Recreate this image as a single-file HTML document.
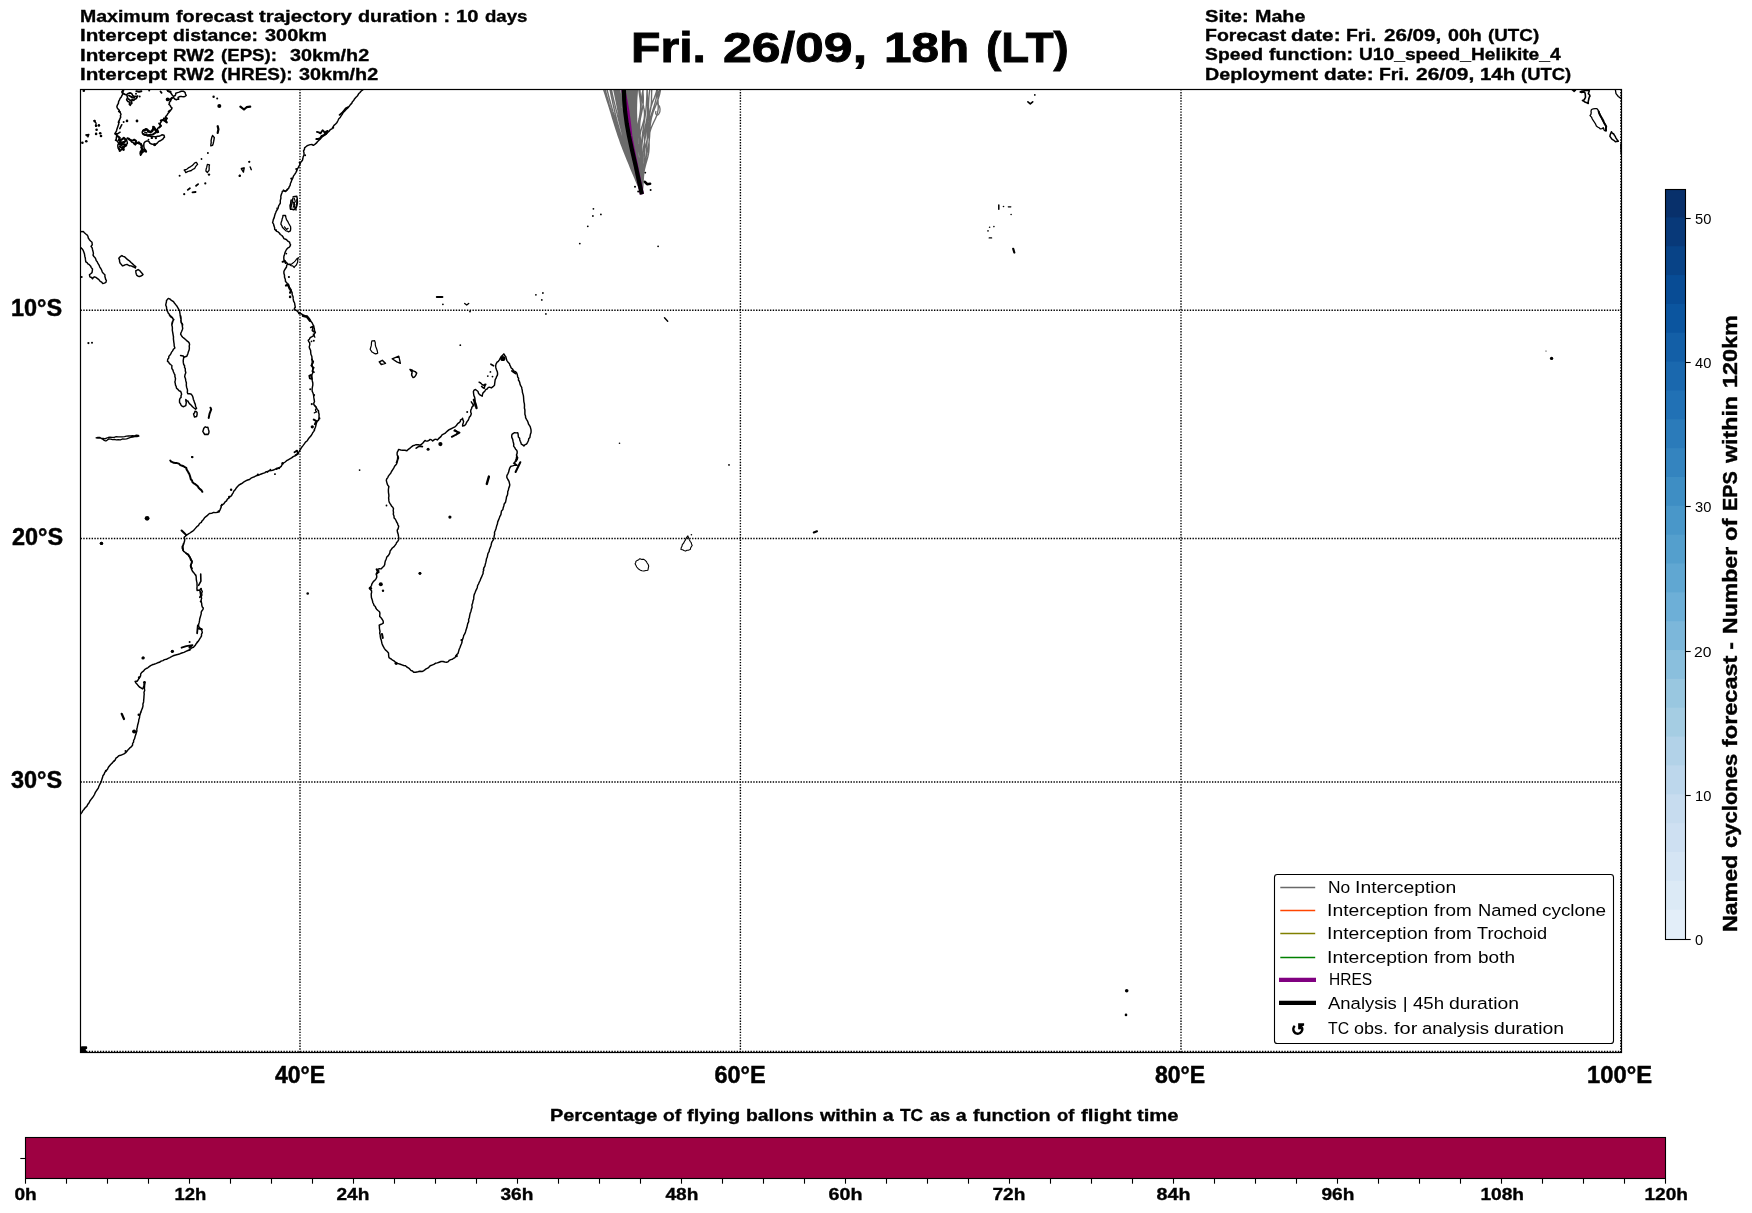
<!DOCTYPE html><html><head><meta charset="utf-8"><title>Trajectory forecast</title>
<style>html,body{margin:0;padding:0;background:#fff}svg{display:block}text{font-family:"Liberation Sans",sans-serif;fill:#000}</style></head><body>
<svg width="1752" height="1213" viewBox="0 0 1752 1213">
<rect width="1752" height="1213" fill="#fff"/>
<defs><clipPath id="mc"><rect x="80.5" y="89.5" width="1541.0" height="963.0"/></clipPath></defs>
<g clip-path="url(#mc)">
<path d="M603.3 88.5 Q604.4 92.0 605.0 93.8 Q605.6 95.6 606.1 97.3 Q606.7 99.1 607.2 100.8 Q607.8 102.6 608.4 104.4 Q608.9 106.1 609.5 107.9 Q610.0 109.7 610.6 111.4 Q611.1 113.2 611.7 115.0 Q612.2 116.7 612.7 118.5 Q613.3 120.2 613.8 122.0 Q614.4 123.8 614.9 125.5 Q615.5 127.3 616.0 129.1 Q616.6 130.8 617.2 132.6 Q617.7 134.3 618.3 136.1 Q618.9 137.9 619.6 139.6 Q620.2 141.4 620.8 143.2 Q621.5 144.9 622.2 146.7 Q622.8 148.5 623.5 150.2 Q624.2 152.0 624.9 153.7 Q625.6 155.5 626.3 157.3 Q627.0 159.0 627.7 160.8 Q628.5 162.6 629.2 164.3 Q629.9 166.1 630.6 167.9 Q631.4 169.6 632.1 171.4 Q632.8 173.1 633.6 174.9 Q634.3 176.7 635.1 178.4 Q635.8 180.2 636.5 182.0 Q637.3 183.7 638.0 185.5 Q638.8 187.2 639.6 189.0 Q640.3 190.8 641.1 192.5 L641.9 194.3 M605.0 88.5 Q605.8 92.0 606.3 93.8 Q606.7 95.6 607.2 97.3 Q607.7 99.1 608.2 100.8 Q608.7 102.6 609.2 104.4 Q609.8 106.1 610.3 107.9 Q610.9 109.7 611.4 111.4 Q612.0 113.2 612.6 115.0 Q613.2 116.7 613.8 118.5 Q614.3 120.2 614.9 122.0 Q615.5 123.8 616.1 125.5 Q616.7 127.3 617.3 129.1 Q617.9 130.8 618.5 132.6 Q619.1 134.3 619.7 136.1 Q620.3 137.9 620.8 139.6 Q621.4 141.4 622.0 143.2 Q622.6 144.9 623.2 146.7 Q623.8 148.5 624.4 150.2 Q625.0 152.0 625.6 153.7 Q626.3 155.5 626.9 157.3 Q627.5 159.0 628.2 160.8 Q628.8 162.6 629.5 164.3 Q630.2 166.1 630.9 167.9 Q631.6 169.6 632.3 171.4 Q633.0 173.1 633.7 174.9 Q634.4 176.7 635.2 178.4 Q635.9 180.2 636.6 182.0 Q637.4 183.7 638.1 185.5 Q638.9 187.2 639.6 189.0 Q640.4 190.8 641.1 192.5 L641.9 194.3 M606.8 88.5 Q607.6 92.0 608.1 93.8 Q608.5 95.6 609.0 97.3 Q609.4 99.1 609.9 100.8 Q610.4 102.6 610.9 104.4 Q611.4 106.1 611.9 107.9 Q612.4 109.7 612.9 111.4 Q613.5 113.2 614.0 115.0 Q614.6 116.7 615.1 118.5 Q615.6 120.2 616.2 122.0 Q616.7 123.8 617.3 125.5 Q617.8 127.3 618.4 129.1 Q618.9 130.8 619.5 132.6 Q620.0 134.3 620.6 136.1 Q621.1 137.9 621.7 139.6 Q622.3 141.4 622.8 143.2 Q623.4 144.9 624.0 146.7 Q624.5 148.5 625.1 150.2 Q625.7 152.0 626.3 153.7 Q626.9 155.5 627.5 157.3 Q628.1 159.0 628.8 160.8 Q629.4 162.6 630.1 164.3 Q630.7 166.1 631.4 167.9 Q632.0 169.6 632.7 171.4 Q633.4 173.1 634.1 174.9 Q634.8 176.7 635.5 178.4 Q636.2 180.2 636.9 182.0 Q637.6 183.7 638.3 185.5 Q639.0 187.2 639.7 189.0 Q640.4 190.8 641.2 192.5 L641.9 194.3 M609.8 88.5 Q610.5 92.0 610.9 93.8 Q611.2 95.6 611.6 97.3 Q612.0 99.1 612.4 100.8 Q612.7 102.6 613.1 104.4 Q613.5 106.1 613.9 107.9 Q614.3 109.7 614.7 111.4 Q615.1 113.2 615.5 115.0 Q616.0 116.7 616.4 118.5 Q616.9 120.2 617.3 122.0 Q617.8 123.8 618.3 125.5 Q618.8 127.3 619.3 129.1 Q619.8 130.8 620.3 132.6 Q620.8 134.3 621.4 136.1 Q621.9 137.9 622.5 139.6 Q623.1 141.4 623.6 143.2 Q624.2 144.9 624.8 146.7 Q625.4 148.5 626.0 150.2 Q626.6 152.0 627.2 153.7 Q627.8 155.5 628.4 157.3 Q629.0 159.0 629.7 160.8 Q630.3 162.6 630.9 164.3 Q631.5 166.1 632.1 167.9 Q632.8 169.6 633.4 171.4 Q634.0 173.1 634.7 174.9 Q635.3 176.7 636.0 178.4 Q636.6 180.2 637.2 182.0 Q637.9 183.7 638.5 185.5 Q639.2 187.2 639.9 189.0 Q640.5 190.8 641.2 192.5 L641.9 194.3 M611.2 88.5 Q611.9 92.0 612.3 93.8 Q612.7 95.6 613.1 97.3 Q613.5 99.1 613.9 100.8 Q614.3 102.6 614.8 104.4 Q615.2 106.1 615.6 107.9 Q616.1 109.7 616.5 111.4 Q617.0 113.2 617.4 115.0 Q617.9 116.7 618.3 118.5 Q618.8 120.2 619.2 122.0 Q619.7 123.8 620.1 125.5 Q620.6 127.3 621.0 129.1 Q621.5 130.8 621.9 132.6 Q622.4 134.3 622.8 136.1 Q623.3 137.9 623.8 139.6 Q624.3 141.4 624.8 143.2 Q625.3 144.9 625.8 146.7 Q626.3 148.5 626.8 150.2 Q627.4 152.0 627.9 153.7 Q628.5 155.5 629.1 157.3 Q629.6 159.0 630.2 160.8 Q630.8 162.6 631.4 164.3 Q632.0 166.1 632.6 167.9 Q633.2 169.6 633.8 171.4 Q634.4 173.1 635.0 174.9 Q635.6 176.7 636.2 178.4 Q636.8 180.2 637.4 182.0 Q638.1 183.7 638.7 185.5 Q639.3 187.2 640.0 189.0 Q640.6 190.8 641.2 192.5 L641.9 194.3 M613.6 88.5 Q614.3 92.0 614.7 93.8 Q615.1 95.6 615.4 97.3 Q615.8 99.1 616.1 100.8 Q616.5 102.6 616.8 104.4 Q617.2 106.1 617.5 107.9 Q617.8 109.7 618.2 111.4 Q618.5 113.2 618.9 115.0 Q619.2 116.7 619.6 118.5 Q620.0 120.2 620.4 122.0 Q620.8 123.8 621.3 125.5 Q621.7 127.3 622.2 129.1 Q622.7 130.8 623.2 132.6 Q623.6 134.3 624.1 136.1 Q624.6 137.9 625.1 139.6 Q625.6 141.4 626.0 143.2 Q626.5 144.9 627.0 146.7 Q627.5 148.5 627.9 150.2 Q628.4 152.0 628.9 153.7 Q629.4 155.5 629.9 157.3 Q630.4 159.0 630.9 160.8 Q631.4 162.6 631.9 164.3 Q632.5 166.1 633.0 167.9 Q633.6 169.6 634.2 171.4 Q634.7 173.1 635.3 174.9 Q635.9 176.7 636.5 178.4 Q637.1 180.2 637.7 182.0 Q638.3 183.7 638.9 185.5 Q639.5 187.2 640.1 189.0 Q640.7 190.8 641.3 192.5 L641.9 194.3 M614.9 88.5 Q615.6 92.0 615.9 93.8 Q616.2 95.6 616.5 97.3 Q616.8 99.1 617.0 100.8 Q617.3 102.6 617.5 104.4 Q617.8 106.1 618.1 107.9 Q618.4 109.7 618.6 111.4 Q618.9 113.2 619.3 115.0 Q619.6 116.7 620.0 118.5 Q620.4 120.2 620.8 122.0 Q621.2 123.8 621.6 125.5 Q622.1 127.3 622.6 129.1 Q623.1 130.8 623.6 132.6 Q624.1 134.3 624.6 136.1 Q625.1 137.9 625.6 139.6 Q626.1 141.4 626.6 143.2 Q627.1 144.9 627.5 146.7 Q628.0 148.5 628.5 150.2 Q628.9 152.0 629.4 153.7 Q629.9 155.5 630.3 157.3 Q630.8 159.0 631.3 160.8 Q631.7 162.6 632.2 164.3 Q632.7 166.1 633.2 167.9 Q633.7 169.6 634.3 171.4 Q634.8 173.1 635.4 174.9 Q635.9 176.7 636.5 178.4 Q637.1 180.2 637.7 182.0 Q638.3 183.7 638.9 185.5 Q639.5 187.2 640.1 189.0 Q640.7 190.8 641.3 192.5 L641.9 194.3 M615.4 88.5 Q616.0 92.0 616.4 93.8 Q616.7 95.6 617.0 97.3 Q617.3 99.1 617.6 100.8 Q618.0 102.6 618.3 104.4 Q618.6 106.1 618.9 107.9 Q619.2 109.7 619.6 111.4 Q619.9 113.2 620.2 115.0 Q620.6 116.7 620.9 118.5 Q621.3 120.2 621.6 122.0 Q622.0 123.8 622.4 125.5 Q622.8 127.3 623.2 129.1 Q623.6 130.8 624.0 132.6 Q624.5 134.3 624.9 136.1 Q625.3 137.9 625.8 139.6 Q626.3 141.4 626.7 143.2 Q627.2 144.9 627.7 146.7 Q628.2 148.5 628.6 150.2 Q629.1 152.0 629.6 153.7 Q630.1 155.5 630.6 157.3 Q631.1 159.0 631.6 160.8 Q632.1 162.6 632.6 164.3 Q633.1 166.1 633.6 167.9 Q634.1 169.6 634.6 171.4 Q635.1 173.1 635.6 174.9 Q636.2 176.7 636.7 178.4 Q637.3 180.2 637.8 182.0 Q638.4 183.7 639.0 185.5 Q639.5 187.2 640.1 189.0 Q640.7 190.8 641.3 192.5 L641.9 194.3 M616.2 88.5 Q616.8 92.0 617.2 93.8 Q617.5 95.6 617.8 97.3 Q618.1 99.1 618.5 100.8 Q618.8 102.6 619.1 104.4 Q619.4 106.1 619.7 107.9 Q620.1 109.7 620.4 111.4 Q620.7 113.2 621.0 115.0 Q621.4 116.7 621.7 118.5 Q622.0 120.2 622.4 122.0 Q622.7 123.8 623.1 125.5 Q623.4 127.3 623.8 129.1 Q624.2 130.8 624.5 132.6 Q624.9 134.3 625.3 136.1 Q625.7 137.9 626.1 139.6 Q626.6 141.4 627.0 143.2 Q627.4 144.9 627.9 146.7 Q628.3 148.5 628.8 150.2 Q629.3 152.0 629.8 153.7 Q630.2 155.5 630.7 157.3 Q631.2 159.0 631.7 160.8 Q632.2 162.6 632.7 164.3 Q633.3 166.1 633.8 167.9 Q634.3 169.6 634.8 171.4 Q635.3 173.1 635.9 174.9 Q636.4 176.7 636.9 178.4 Q637.5 180.2 638.0 182.0 Q638.5 183.7 639.1 185.5 Q639.6 187.2 640.2 189.0 Q640.8 190.8 641.3 192.5 L641.9 194.3 M616.6 88.5 Q617.3 92.0 617.6 93.8 Q618.0 95.6 618.3 97.3 Q618.7 99.1 619.0 100.8 Q619.4 102.6 619.8 104.4 Q620.1 106.1 620.5 107.9 Q620.8 109.7 621.2 111.4 Q621.5 113.2 621.8 115.0 Q622.2 116.7 622.5 118.5 Q622.8 120.2 623.1 122.0 Q623.4 123.8 623.8 125.5 Q624.1 127.3 624.4 129.1 Q624.7 130.8 625.1 132.6 Q625.4 134.3 625.8 136.1 Q626.2 137.9 626.5 139.6 Q626.9 141.4 627.3 143.2 Q627.8 144.9 628.2 146.7 Q628.6 148.5 629.1 150.2 Q629.6 152.0 630.0 153.7 Q630.5 155.5 631.0 157.3 Q631.5 159.0 632.0 160.8 Q632.5 162.6 633.0 164.3 Q633.5 166.1 634.0 167.9 Q634.5 169.6 635.0 171.4 Q635.6 173.1 636.1 174.9 Q636.6 176.7 637.1 178.4 Q637.6 180.2 638.1 182.0 Q638.6 183.7 639.2 185.5 Q639.7 187.2 640.2 189.0 Q640.8 190.8 641.3 192.5 L641.9 194.3 M617.9 88.5 Q618.2 92.0 618.4 93.8 Q618.6 95.6 618.8 97.3 Q619.0 99.1 619.3 100.8 Q619.6 102.6 619.9 104.4 Q620.2 106.1 620.6 107.9 Q620.9 109.7 621.3 111.4 Q621.7 113.2 622.1 115.0 Q622.5 116.7 622.9 118.5 Q623.3 120.2 623.7 122.0 Q624.1 123.8 624.5 125.5 Q624.8 127.3 625.2 129.1 Q625.6 130.8 625.9 132.6 Q626.2 134.3 626.6 136.1 Q626.9 137.9 627.3 139.6 Q627.6 141.4 628.0 143.2 Q628.3 144.9 628.7 146.7 Q629.1 148.5 629.5 150.2 Q629.9 152.0 630.3 153.7 Q630.7 155.5 631.2 157.3 Q631.7 159.0 632.1 160.8 Q632.6 162.6 633.1 164.3 Q633.6 166.1 634.1 167.9 Q634.6 169.6 635.2 171.4 Q635.7 173.1 636.2 174.9 Q636.7 176.7 637.2 178.4 Q637.7 180.2 638.2 182.0 Q638.7 183.7 639.3 185.5 Q639.8 187.2 640.3 189.0 Q640.8 190.8 641.4 192.5 L641.9 194.3 M619.2 88.5 Q619.6 92.0 619.8 93.8 Q620.0 95.6 620.2 97.3 Q620.4 99.1 620.5 100.8 Q620.7 102.6 620.9 104.4 Q621.1 106.1 621.3 107.9 Q621.6 109.7 621.8 111.4 Q622.1 113.2 622.4 115.0 Q622.7 116.7 623.0 118.5 Q623.3 120.2 623.7 122.0 Q624.1 123.8 624.5 125.5 Q624.8 127.3 625.3 129.1 Q625.7 130.8 626.1 132.6 Q626.5 134.3 626.9 136.1 Q627.4 137.9 627.8 139.6 Q628.2 141.4 628.6 143.2 Q629.0 144.9 629.5 146.7 Q629.9 148.5 630.3 150.2 Q630.7 152.0 631.1 153.7 Q631.5 155.5 631.9 157.3 Q632.2 159.0 632.7 160.8 Q633.1 162.6 633.5 164.3 Q633.9 166.1 634.3 167.9 Q634.8 169.6 635.2 171.4 Q635.7 173.1 636.2 174.9 Q636.6 176.7 637.1 178.4 Q637.6 180.2 638.2 182.0 Q638.7 183.7 639.2 185.5 Q639.7 187.2 640.3 189.0 Q640.8 190.8 641.4 192.5 L641.9 194.3 M619.0 88.5 Q619.7 92.0 620.1 93.8 Q620.5 95.6 620.9 97.3 Q621.3 99.1 621.7 100.8 Q622.0 102.6 622.3 104.4 Q622.6 106.1 622.8 107.9 Q623.0 109.7 623.2 111.4 Q623.4 113.2 623.5 115.0 Q623.7 116.7 623.9 118.5 Q624.0 120.2 624.3 122.0 Q624.5 123.8 624.8 125.5 Q625.1 127.3 625.5 129.1 Q625.9 130.8 626.3 132.6 Q626.8 134.3 627.2 136.1 Q627.7 137.9 628.2 139.6 Q628.6 141.4 629.1 143.2 Q629.5 144.9 629.9 146.7 Q630.3 148.5 630.7 150.2 Q631.0 152.0 631.4 153.7 Q631.7 155.5 632.1 157.3 Q632.4 159.0 632.8 160.8 Q633.1 162.6 633.5 164.3 Q633.9 166.1 634.4 167.9 Q634.8 169.6 635.3 171.4 Q635.8 173.1 636.3 174.9 Q636.8 176.7 637.3 178.4 Q637.9 180.2 638.4 182.0 Q638.9 183.7 639.4 185.5 Q639.9 187.2 640.4 189.0 Q640.9 190.8 641.4 192.5 L641.9 194.3 M620.9 88.5 Q621.4 92.0 621.5 93.8 Q621.7 95.6 621.9 97.3 Q622.1 99.1 622.3 100.8 Q622.4 102.6 622.6 104.4 Q622.8 106.1 623.0 107.9 Q623.2 109.7 623.4 111.4 Q623.6 113.2 623.8 115.0 Q624.0 116.7 624.3 118.5 Q624.6 120.2 624.8 122.0 Q625.1 123.8 625.4 125.5 Q625.8 127.3 626.1 129.1 Q626.5 130.8 626.8 132.6 Q627.2 134.3 627.6 136.1 Q628.0 137.9 628.4 139.6 Q628.8 141.4 629.2 143.2 Q629.6 144.9 630.0 146.7 Q630.4 148.5 630.9 150.2 Q631.3 152.0 631.7 153.7 Q632.1 155.5 632.5 157.3 Q632.9 159.0 633.3 160.8 Q633.7 162.6 634.1 164.3 Q634.5 166.1 635.0 167.9 Q635.4 169.6 635.8 171.4 Q636.2 173.1 636.6 174.9 Q637.1 176.7 637.5 178.4 Q638.0 180.2 638.4 182.0 Q638.9 183.7 639.4 185.5 Q639.9 187.2 640.4 189.0 Q640.9 190.8 641.4 192.5 L641.9 194.3 M620.9 88.5 Q621.3 92.0 621.6 93.8 Q621.8 95.6 622.0 97.3 Q622.3 99.1 622.5 100.8 Q622.8 102.6 623.1 104.4 Q623.3 106.1 623.6 107.9 Q623.9 109.7 624.2 111.4 Q624.5 113.2 624.8 115.0 Q625.1 116.7 625.4 118.5 Q625.7 120.2 626.0 122.0 Q626.3 123.8 626.6 125.5 Q626.9 127.3 627.2 129.1 Q627.5 130.8 627.8 132.6 Q628.2 134.3 628.5 136.1 Q628.8 137.9 629.1 139.6 Q629.5 141.4 629.8 143.2 Q630.1 144.9 630.5 146.7 Q630.8 148.5 631.2 150.2 Q631.5 152.0 631.9 153.7 Q632.2 155.5 632.6 157.3 Q633.0 159.0 633.4 160.8 Q633.7 162.6 634.1 164.3 Q634.5 166.1 635.0 167.9 Q635.4 169.6 635.8 171.4 Q636.2 173.1 636.7 174.9 Q637.1 176.7 637.6 178.4 Q638.0 180.2 638.5 182.0 Q639.0 183.7 639.4 185.5 Q639.9 187.2 640.4 189.0 Q640.9 190.8 641.4 192.5 L641.9 194.3 M622.4 88.5 Q622.6 92.0 622.7 93.8 Q622.8 95.6 622.9 97.3 Q623.0 99.1 623.2 100.8 Q623.3 102.6 623.6 104.4 Q623.8 106.1 624.0 107.9 Q624.3 109.7 624.6 111.4 Q624.9 113.2 625.2 115.0 Q625.6 116.7 625.9 118.5 Q626.2 120.2 626.6 122.0 Q626.9 123.8 627.2 125.5 Q627.5 127.3 627.8 129.1 Q628.1 130.8 628.3 132.6 Q628.6 134.3 628.9 136.1 Q629.1 137.9 629.4 139.6 Q629.7 141.4 630.0 143.2 Q630.2 144.9 630.6 146.7 Q630.9 148.5 631.2 150.2 Q631.6 152.0 632.0 153.7 Q632.3 155.5 632.8 157.3 Q633.2 159.0 633.6 160.8 Q634.0 162.6 634.4 164.3 Q634.9 166.1 635.3 167.9 Q635.7 169.6 636.1 171.4 Q636.6 173.1 637.0 174.9 Q637.4 176.7 637.8 178.4 Q638.3 180.2 638.7 182.0 Q639.1 183.7 639.6 185.5 Q640.0 187.2 640.5 189.0 Q640.9 190.8 641.4 192.5 L641.9 194.3 M623.0 88.5 Q623.6 92.0 623.9 93.8 Q624.2 95.6 624.4 97.3 Q624.6 99.1 624.8 100.8 Q625.0 102.6 625.1 104.4 Q625.2 106.1 625.3 107.9 Q625.4 109.7 625.5 111.4 Q625.6 113.2 625.7 115.0 Q625.9 116.7 626.1 118.5 Q626.2 120.2 626.5 122.0 Q626.7 123.8 627.0 125.5 Q627.4 127.3 627.7 129.1 Q628.1 130.8 628.5 132.6 Q628.9 134.3 629.3 136.1 Q629.7 137.9 630.0 139.6 Q630.4 141.4 630.8 143.2 Q631.1 144.9 631.4 146.7 Q631.8 148.5 632.1 150.2 Q632.4 152.0 632.6 153.7 Q632.9 155.5 633.2 157.3 Q633.5 159.0 633.8 160.8 Q634.1 162.6 634.5 164.3 Q634.8 166.1 635.2 167.9 Q635.6 169.6 636.0 171.4 Q636.5 173.1 636.9 174.9 Q637.4 176.7 637.8 178.4 Q638.3 180.2 638.7 182.0 Q639.2 183.7 639.7 185.5 Q640.1 187.2 640.6 189.0 Q641.0 190.8 641.5 192.5 L641.9 194.3 M623.9 88.5 Q624.0 92.0 624.1 93.8 Q624.2 95.6 624.4 97.3 Q624.5 99.1 624.7 100.8 Q624.9 102.6 625.1 104.4 Q625.3 106.1 625.6 107.9 Q625.9 109.7 626.1 111.4 Q626.4 113.2 626.7 115.0 Q627.0 116.7 627.2 118.5 Q627.5 120.2 627.8 122.0 Q628.0 123.8 628.2 125.5 Q628.5 127.3 628.7 129.1 Q628.9 130.8 629.2 132.6 Q629.4 134.3 629.6 136.1 Q629.9 137.9 630.1 139.6 Q630.4 141.4 630.7 143.2 Q631.0 144.9 631.3 146.7 Q631.7 148.5 632.0 150.2 Q632.4 152.0 632.7 153.7 Q633.1 155.5 633.5 157.3 Q633.9 159.0 634.2 160.8 Q634.6 162.6 635.0 164.3 Q635.4 166.1 635.7 167.9 Q636.1 169.6 636.5 171.4 Q636.9 173.1 637.3 174.9 Q637.6 176.7 638.0 178.4 Q638.4 180.2 638.8 182.0 Q639.2 183.7 639.7 185.5 Q640.1 187.2 640.5 189.0 Q641.0 190.8 641.4 192.5 L641.9 194.3 M625.0 88.5 Q625.4 92.0 625.6 93.8 Q625.8 95.6 626.0 97.3 Q626.2 99.1 626.3 100.8 Q626.5 102.6 626.6 104.4 Q626.8 106.1 626.9 107.9 Q627.0 109.7 627.1 111.4 Q627.2 113.2 627.3 115.0 Q627.5 116.7 627.6 118.5 Q627.7 120.2 627.9 122.0 Q628.0 123.8 628.2 125.5 Q628.4 127.3 628.7 129.1 Q628.9 130.8 629.2 132.6 Q629.4 134.3 629.7 136.1 Q630.0 137.9 630.4 139.6 Q630.7 141.4 631.0 143.2 Q631.4 144.9 631.8 146.7 Q632.1 148.5 632.5 150.2 Q632.9 152.0 633.2 153.7 Q633.6 155.5 634.0 157.3 Q634.3 159.0 634.7 160.8 Q635.0 162.6 635.4 164.3 Q635.7 166.1 636.1 167.9 Q636.4 169.6 636.8 171.4 Q637.1 173.1 637.5 174.9 Q637.8 176.7 638.2 178.4 Q638.6 180.2 639.0 182.0 Q639.3 183.7 639.7 185.5 Q640.1 187.2 640.6 189.0 Q641.0 190.8 641.4 192.5 L641.9 194.3 M626.0 88.5 Q626.2 92.0 626.2 93.8 Q626.3 95.6 626.3 97.3 Q626.4 99.1 626.4 100.8 Q626.5 102.6 626.5 104.4 Q626.6 106.1 626.8 107.9 Q626.9 109.7 627.1 111.4 Q627.3 113.2 627.5 115.0 Q627.7 116.7 628.0 118.5 Q628.3 120.2 628.6 122.0 Q628.9 123.8 629.2 125.5 Q629.5 127.3 629.8 129.1 Q630.1 130.8 630.4 132.6 Q630.7 134.3 630.9 136.1 Q631.2 137.9 631.4 139.6 Q631.6 141.4 631.9 143.2 Q632.1 144.9 632.3 146.7 Q632.5 148.5 632.8 150.2 Q633.0 152.0 633.3 153.7 Q633.6 155.5 633.9 157.3 Q634.2 159.0 634.5 160.8 Q634.9 162.6 635.2 164.3 Q635.6 166.1 636.0 167.9 Q636.4 169.6 636.8 171.4 Q637.2 173.1 637.5 174.9 Q637.9 176.7 638.3 178.4 Q638.7 180.2 639.1 182.0 Q639.5 183.7 639.9 185.5 Q640.3 187.2 640.7 189.0 Q641.1 190.8 641.5 192.5 L641.9 194.3 M626.3 88.5 Q626.6 92.0 626.7 93.8 Q626.9 95.6 627.1 97.3 Q627.2 99.1 627.4 100.8 Q627.5 102.6 627.7 104.4 Q627.9 106.1 628.0 107.9 Q628.2 109.7 628.4 111.4 Q628.5 113.2 628.7 115.0 Q628.8 116.7 629.0 118.5 Q629.2 120.2 629.4 122.0 Q629.5 123.8 629.7 125.5 Q629.9 127.3 630.1 129.1 Q630.3 130.8 630.5 132.6 Q630.7 134.3 631.0 136.1 Q631.2 137.9 631.4 139.6 Q631.7 141.4 632.0 143.2 Q632.2 144.9 632.5 146.7 Q632.8 148.5 633.1 150.2 Q633.4 152.0 633.7 153.7 Q634.0 155.5 634.3 157.3 Q634.6 159.0 635.0 160.8 Q635.3 162.6 635.6 164.3 Q636.0 166.1 636.3 167.9 Q636.7 169.6 637.0 171.4 Q637.4 173.1 637.7 174.9 Q638.1 176.7 638.4 178.4 Q638.8 180.2 639.2 182.0 Q639.6 183.7 639.9 185.5 Q640.3 187.2 640.7 189.0 Q641.1 190.8 641.5 192.5 L641.9 194.3 M627.8 88.5 Q627.9 92.0 628.0 93.8 Q628.1 95.6 628.2 97.3 Q628.2 99.1 628.3 100.8 Q628.4 102.6 628.5 104.4 Q628.5 106.1 628.6 107.9 Q628.7 109.7 628.8 111.4 Q628.9 113.2 629.0 115.0 Q629.2 116.7 629.3 118.5 Q629.4 120.2 629.6 122.0 Q629.7 123.8 629.9 125.5 Q630.1 127.3 630.3 129.1 Q630.5 130.8 630.7 132.6 Q630.9 134.3 631.2 136.1 Q631.4 137.9 631.7 139.6 Q632.0 141.4 632.2 143.2 Q632.5 144.9 632.8 146.7 Q633.1 148.5 633.4 150.2 Q633.7 152.0 634.0 153.7 Q634.4 155.5 634.7 157.3 Q635.0 159.0 635.3 160.8 Q635.7 162.6 636.0 164.3 Q636.3 166.1 636.6 167.9 Q637.0 169.6 637.3 171.4 Q637.6 173.1 638.0 174.9 Q638.3 176.7 638.7 178.4 Q639.0 180.2 639.3 182.0 Q639.7 183.7 640.0 185.5 Q640.4 187.2 640.8 189.0 Q641.1 190.8 641.5 192.5 L641.9 194.3 M627.8 88.5 Q628.0 92.0 628.1 93.8 Q628.2 95.6 628.4 97.3 Q628.5 99.1 628.6 100.8 Q628.8 102.6 628.9 104.4 Q629.1 106.1 629.2 107.9 Q629.4 109.7 629.5 111.4 Q629.7 113.2 629.9 115.0 Q630.0 116.7 630.2 118.5 Q630.4 120.2 630.6 122.0 Q630.8 123.8 631.0 125.5 Q631.2 127.3 631.4 129.1 Q631.5 130.8 631.7 132.6 Q632.0 134.3 632.2 136.1 Q632.4 137.9 632.6 139.6 Q632.8 141.4 633.0 143.2 Q633.2 144.9 633.5 146.7 Q633.7 148.5 633.9 150.2 Q634.2 152.0 634.4 153.7 Q634.7 155.5 635.0 157.3 Q635.2 159.0 635.5 160.8 Q635.8 162.6 636.1 164.3 Q636.4 166.1 636.7 167.9 Q637.0 169.6 637.3 171.4 Q637.6 173.1 637.9 174.9 Q638.3 176.7 638.6 178.4 Q638.9 180.2 639.3 182.0 Q639.6 183.7 640.0 185.5 Q640.4 187.2 640.8 189.0 Q641.1 190.8 641.5 192.5 L641.9 194.3 M629.0 88.5 Q629.0 92.0 629.1 93.8 Q629.1 95.6 629.1 97.3 Q629.2 99.1 629.3 100.8 Q629.3 102.6 629.4 104.4 Q629.5 106.1 629.7 107.9 Q629.8 109.7 630.0 111.4 Q630.1 113.2 630.3 115.0 Q630.5 116.7 630.7 118.5 Q630.9 120.2 631.1 122.0 Q631.3 123.8 631.5 125.5 Q631.7 127.3 631.9 129.1 Q632.1 130.8 632.3 132.6 Q632.5 134.3 632.6 136.1 Q632.8 137.9 633.0 139.6 Q633.2 141.4 633.4 143.2 Q633.6 144.9 633.8 146.7 Q634.0 148.5 634.2 150.2 Q634.4 152.0 634.7 153.7 Q634.9 155.5 635.2 157.3 Q635.4 159.0 635.7 160.8 Q636.0 162.6 636.2 164.3 Q636.5 166.1 636.8 167.9 Q637.2 169.6 637.5 171.4 Q637.8 173.1 638.1 174.9 Q638.4 176.7 638.8 178.4 Q639.1 180.2 639.5 182.0 Q639.8 183.7 640.1 185.5 Q640.5 187.2 640.8 189.0 Q641.2 190.8 641.5 192.5 L641.9 194.3 M630.0 88.5 Q630.1 92.0 630.2 93.8 Q630.3 95.6 630.3 97.3 Q630.4 99.1 630.4 100.8 Q630.4 102.6 630.5 104.4 Q630.5 106.1 630.6 107.9 Q630.6 109.7 630.7 111.4 Q630.8 113.2 630.9 115.0 Q631.0 116.7 631.1 118.5 Q631.2 120.2 631.4 122.0 Q631.6 123.8 631.8 125.5 Q631.9 127.3 632.2 129.1 Q632.4 130.8 632.6 132.6 Q632.8 134.3 633.0 136.1 Q633.2 137.9 633.5 139.6 Q633.7 141.4 633.9 143.2 Q634.1 144.9 634.3 146.7 Q634.5 148.5 634.7 150.2 Q634.9 152.0 635.1 153.7 Q635.3 155.5 635.6 157.3 Q635.8 159.0 636.0 160.8 Q636.3 162.6 636.5 164.3 Q636.8 166.1 637.0 167.9 Q637.3 169.6 637.6 171.4 Q637.9 173.1 638.2 174.9 Q638.5 176.7 638.9 178.4 Q639.2 180.2 639.5 182.0 Q639.9 183.7 640.2 185.5 Q640.5 187.2 640.9 189.0 Q641.2 190.8 641.6 192.5 L641.9 194.3 M630.8 88.5 Q630.8 92.0 630.8 93.8 Q630.8 95.6 630.8 97.3 Q630.8 99.1 630.8 100.8 Q630.8 102.6 630.9 104.4 Q630.9 106.1 631.0 107.9 Q631.0 109.7 631.1 111.4 Q631.2 113.2 631.3 115.0 Q631.4 116.7 631.5 118.5 Q631.7 120.2 631.8 122.0 Q632.0 123.8 632.1 125.5 Q632.3 127.3 632.5 129.1 Q632.7 130.8 632.9 132.6 Q633.1 134.3 633.3 136.1 Q633.5 137.9 633.7 139.6 Q634.0 141.4 634.2 143.2 Q634.4 144.9 634.7 146.7 Q634.9 148.5 635.1 150.2 Q635.3 152.0 635.6 153.7 Q635.8 155.5 636.1 157.3 Q636.3 159.0 636.5 160.8 Q636.8 162.6 637.0 164.3 Q637.3 166.1 637.5 167.9 Q637.8 169.6 638.0 171.4 Q638.3 173.1 638.5 174.9 Q638.8 176.7 639.1 178.4 Q639.4 180.2 639.7 182.0 Q640.0 183.7 640.3 185.5 Q640.6 187.2 640.9 189.0 Q641.2 190.8 641.6 192.5 L641.9 194.3 M631.4 88.5 Q631.5 92.0 631.6 93.8 Q631.7 95.6 631.8 97.3 Q631.8 99.1 631.9 100.8 Q632.0 102.6 632.1 104.4 Q632.2 106.1 632.2 107.9 Q632.3 109.7 632.4 111.4 Q632.5 113.2 632.6 115.0 Q632.6 116.7 632.7 118.5 Q632.8 120.2 632.9 122.0 Q633.0 123.8 633.1 125.5 Q633.2 127.3 633.3 129.1 Q633.4 130.8 633.5 132.6 Q633.6 134.3 633.8 136.1 Q633.9 137.9 634.1 139.6 Q634.2 141.4 634.4 143.2 Q634.6 144.9 634.8 146.7 Q635.0 148.5 635.2 150.2 Q635.4 152.0 635.6 153.7 Q635.8 155.5 636.1 157.3 Q636.3 159.0 636.6 160.8 Q636.8 162.6 637.1 164.3 Q637.3 166.1 637.6 167.9 Q637.8 169.6 638.1 171.4 Q638.4 173.1 638.7 174.9 Q638.9 176.7 639.2 178.4 Q639.5 180.2 639.8 182.0 Q640.1 183.7 640.4 185.5 Q640.7 187.2 641.0 189.0 Q641.3 190.8 641.6 192.5 L641.9 194.3 M631.9 88.5 Q632.1 92.0 632.2 93.8 Q632.3 95.6 632.4 97.3 Q632.5 99.1 632.7 100.8 Q632.8 102.6 632.9 104.4 Q633.0 106.1 633.1 107.9 Q633.2 109.7 633.3 111.4 Q633.4 113.2 633.4 115.0 Q633.5 116.7 633.6 118.5 Q633.7 120.2 633.7 122.0 Q633.8 123.8 633.8 125.5 Q633.9 127.3 634.0 129.1 Q634.0 130.8 634.1 132.6 Q634.2 134.3 634.3 136.1 Q634.3 137.9 634.5 139.6 Q634.6 141.4 634.7 143.2 Q634.9 144.9 635.0 146.7 Q635.2 148.5 635.4 150.2 Q635.6 152.0 635.8 153.7 Q636.0 155.5 636.2 157.3 Q636.5 159.0 636.7 160.8 Q637.0 162.6 637.2 164.3 Q637.5 166.1 637.7 167.9 Q638.0 169.6 638.3 171.4 Q638.6 173.1 638.8 174.9 Q639.1 176.7 639.4 178.4 Q639.7 180.2 639.9 182.0 Q640.2 183.7 640.5 185.5 Q640.8 187.2 641.0 189.0 Q641.3 190.8 641.6 192.5 L641.9 194.3 M632.9 88.5 Q633.0 92.0 633.0 93.8 Q633.1 95.6 633.2 97.3 Q633.2 99.1 633.3 100.8 Q633.4 102.6 633.4 104.4 Q633.5 106.1 633.6 107.9 Q633.7 109.7 633.7 111.4 Q633.8 113.2 633.9 115.0 Q633.9 116.7 634.0 118.5 Q634.0 120.2 634.1 122.0 Q634.2 123.8 634.2 125.5 Q634.3 127.3 634.4 129.1 Q634.5 130.8 634.5 132.6 Q634.6 134.3 634.7 136.1 Q634.8 137.9 635.0 139.6 Q635.1 141.4 635.2 143.2 Q635.4 144.9 635.5 146.7 Q635.7 148.5 635.9 150.2 Q636.1 152.0 636.3 153.7 Q636.5 155.5 636.7 157.3 Q636.9 159.0 637.1 160.8 Q637.3 162.6 637.6 164.3 Q637.8 166.1 638.0 167.9 Q638.3 169.6 638.5 171.4 Q638.7 173.1 639.0 174.9 Q639.2 176.7 639.5 178.4 Q639.7 180.2 640.0 182.0 Q640.2 183.7 640.5 185.5 Q640.8 187.2 641.0 189.0 Q641.3 190.8 641.6 192.5 L641.9 194.3 M634.0 88.5 Q634.1 92.0 634.1 93.8 Q634.2 95.6 634.2 97.3 Q634.3 99.1 634.3 100.8 Q634.4 102.6 634.4 104.4 Q634.4 106.1 634.5 107.9 Q634.5 109.7 634.6 111.4 Q634.6 113.2 634.7 115.0 Q634.7 116.7 634.7 118.5 Q634.8 120.2 634.8 122.0 Q634.9 123.8 634.9 125.5 Q635.0 127.3 635.0 129.1 Q635.1 130.8 635.1 132.6 Q635.2 134.3 635.3 136.1 Q635.3 137.9 635.4 139.6 Q635.5 141.4 635.6 143.2 Q635.8 144.9 635.9 146.7 Q636.0 148.5 636.2 150.2 Q636.3 152.0 636.5 153.7 Q636.6 155.5 636.8 157.3 Q637.0 159.0 637.2 160.8 Q637.4 162.6 637.6 164.3 Q637.8 166.1 638.1 167.9 Q638.3 169.6 638.5 171.4 Q638.8 173.1 639.0 174.9 Q639.3 176.7 639.5 178.4 Q639.8 180.2 640.0 182.0 Q640.3 183.7 640.6 185.5 Q640.8 187.2 641.1 189.0 Q641.4 190.8 641.6 192.5 L641.9 194.3 M634.5 88.5 Q634.5 92.0 634.5 93.8 Q634.5 95.6 634.6 97.3 Q634.6 99.1 634.6 100.8 Q634.7 102.6 634.7 104.4 Q634.8 106.1 634.8 107.9 Q634.9 109.7 634.9 111.4 Q635.0 113.2 635.1 115.0 Q635.1 116.7 635.2 118.5 Q635.2 120.2 635.3 122.0 Q635.4 123.8 635.4 125.5 Q635.5 127.3 635.6 129.1 Q635.6 130.8 635.7 132.6 Q635.8 134.3 635.9 136.1 Q635.9 137.9 636.0 139.6 Q636.1 141.4 636.2 143.2 Q636.3 144.9 636.4 146.7 Q636.5 148.5 636.7 150.2 Q636.8 152.0 636.9 153.7 Q637.1 155.5 637.2 157.3 Q637.4 159.0 637.6 160.8 Q637.7 162.6 637.9 164.3 Q638.1 166.1 638.3 167.9 Q638.5 169.6 638.7 171.4 Q639.0 173.1 639.2 174.9 Q639.4 176.7 639.7 178.4 Q639.9 180.2 640.1 182.0 Q640.4 183.7 640.6 185.5 Q640.9 187.2 641.1 189.0 Q641.4 190.8 641.6 192.5 L641.9 194.3 M635.9 88.5 Q635.9 92.0 635.8 93.8 Q635.8 95.6 635.8 97.3 Q635.8 99.1 635.8 100.8 Q635.8 102.6 635.8 104.4 Q635.7 106.1 635.7 107.9 Q635.7 109.7 635.7 111.4 Q635.7 113.2 635.6 115.0 Q635.6 116.7 635.6 118.5 Q635.6 120.2 635.6 122.0 Q635.6 123.8 635.7 125.5 Q635.7 127.3 635.7 129.1 Q635.8 130.8 635.8 132.6 Q635.9 134.3 636.0 136.1 Q636.1 137.9 636.2 139.6 Q636.3 141.4 636.4 143.2 Q636.6 144.9 636.7 146.7 Q636.8 148.5 637.0 150.2 Q637.1 152.0 637.3 153.7 Q637.5 155.5 637.7 157.3 Q637.8 159.0 638.0 160.8 Q638.2 162.6 638.4 164.3 Q638.5 166.1 638.7 167.9 Q638.9 169.6 639.1 171.4 Q639.3 173.1 639.5 174.9 Q639.7 176.7 639.9 178.4 Q640.1 180.2 640.3 182.0 Q640.5 183.7 640.7 185.5 Q640.9 187.2 641.2 189.0 Q641.4 190.8 641.7 192.5 L641.9 194.3 M636.8 88.5 Q636.7 92.0 636.6 93.8 Q636.5 95.6 636.4 97.3 Q636.4 99.1 636.3 100.8 Q636.2 102.6 636.2 104.4 Q636.1 106.1 636.1 107.9 Q636.0 109.7 636.0 111.4 Q636.0 113.2 636.0 115.0 Q636.0 116.7 636.0 118.5 Q636.0 120.2 636.1 122.0 Q636.2 123.8 636.2 125.5 Q636.3 127.3 636.4 129.1 Q636.5 130.8 636.6 132.6 Q636.7 134.3 636.8 136.1 Q636.9 137.9 637.0 139.6 Q637.1 141.4 637.1 143.2 Q637.2 144.9 637.3 146.7 Q637.4 148.5 637.5 150.2 Q637.6 152.0 637.7 153.7 Q637.8 155.5 638.0 157.3 Q638.1 159.0 638.2 160.8 Q638.3 162.6 638.5 164.3 Q638.6 166.1 638.8 167.9 Q638.9 169.6 639.1 171.4 Q639.3 173.1 639.5 174.9 Q639.7 176.7 639.9 178.4 Q640.1 180.2 640.3 182.0 Q640.5 183.7 640.7 185.5 Q641.0 187.2 641.2 189.0 Q641.4 190.8 641.7 192.5 L641.9 194.3 M637.5 88.5 Q637.2 92.0 637.1 93.8 Q637.0 95.6 636.8 97.3 Q636.7 99.1 636.6 100.8 Q636.6 102.6 636.5 104.4 Q636.5 106.1 636.4 107.9 Q636.4 109.7 636.4 111.4 Q636.4 113.2 636.5 115.0 Q636.5 116.7 636.6 118.5 Q636.6 120.2 636.7 122.0 Q636.8 123.8 636.9 125.5 Q637.0 127.3 637.1 129.1 Q637.1 130.8 637.2 132.6 Q637.3 134.3 637.4 136.1 Q637.5 137.9 637.6 139.6 Q637.6 141.4 637.7 143.2 Q637.8 144.9 637.8 146.7 Q637.9 148.5 638.0 150.2 Q638.0 152.0 638.1 153.7 Q638.2 155.5 638.3 157.3 Q638.4 159.0 638.5 160.8 Q638.6 162.6 638.7 164.3 Q638.8 166.1 638.9 167.9 Q639.1 169.6 639.2 171.4 Q639.4 173.1 639.6 174.9 Q639.8 176.7 639.9 178.4 Q640.1 180.2 640.4 182.0 Q640.6 183.7 640.8 185.5 Q641.0 187.2 641.2 189.0 Q641.4 190.8 641.7 192.5 L641.9 194.3 M638.7 88.5 Q639.1 92.0 639.4 93.8 Q639.6 95.6 639.9 97.3 Q640.2 99.1 640.3 100.8 Q640.5 102.6 640.6 104.4 Q640.6 106.1 640.6 107.9 Q640.5 109.7 640.3 111.4 Q640.1 113.2 639.8 115.0 Q639.5 116.7 639.2 118.5 Q638.8 120.2 638.5 122.0 Q638.2 123.8 638.0 125.5 Q637.7 127.3 637.6 129.1 Q637.4 130.8 637.4 132.6 Q637.4 134.3 637.5 136.1 Q637.6 137.9 637.8 139.6 Q638.0 141.4 638.2 143.2 Q638.5 144.9 638.7 146.7 Q639.0 148.5 639.2 150.2 Q639.5 152.0 639.6 153.7 Q639.8 155.5 639.9 157.3 Q640.0 159.0 640.1 160.8 Q640.1 162.6 640.1 164.3 Q640.1 166.1 640.1 167.9 Q640.1 169.6 640.1 171.4 Q640.0 173.1 640.1 174.9 Q640.1 176.7 640.2 178.4 Q640.3 180.2 640.5 182.0 Q640.6 183.7 640.8 185.5 Q641.0 187.2 641.2 189.0 Q641.4 190.8 641.7 192.5 L641.9 194.3 M639.8 88.5 Q640.0 92.0 640.2 93.8 Q640.5 95.6 640.7 97.3 Q640.9 99.1 641.0 100.8 Q641.2 102.6 641.2 104.4 Q641.2 106.1 641.0 107.9 Q640.9 109.7 640.6 111.4 Q640.4 113.2 640.0 115.0 Q639.7 116.7 639.3 118.5 Q639.0 120.2 638.8 122.0 Q638.5 123.8 638.4 125.5 Q638.3 127.3 638.3 129.1 Q638.3 130.8 638.5 132.6 Q638.6 134.3 638.8 136.1 Q639.1 137.9 639.3 139.6 Q639.5 141.4 639.7 143.2 Q639.8 144.9 639.9 146.7 Q640.0 148.5 640.0 150.2 Q640.0 152.0 640.0 153.7 Q639.9 155.5 639.8 157.3 Q639.7 159.0 639.6 160.8 Q639.6 162.6 639.5 164.3 Q639.5 166.1 639.6 167.9 Q639.6 169.6 639.8 171.4 Q639.9 173.1 640.1 174.9 Q640.3 176.7 640.5 178.4 Q640.7 180.2 640.9 182.0 Q641.1 183.7 641.2 185.5 Q641.4 187.2 641.5 189.0 Q641.7 190.8 641.8 192.5 L641.9 194.3 M642.7 88.5 Q643.0 92.0 643.1 93.8 Q643.3 95.6 643.3 97.3 Q643.4 99.1 643.3 100.8 Q643.3 102.6 643.1 104.4 Q642.9 106.1 642.5 107.9 Q642.2 109.7 641.9 111.4 Q641.5 113.2 641.1 115.0 Q640.7 116.7 640.4 118.5 Q640.1 120.2 639.9 122.0 Q639.7 123.8 639.7 125.5 Q639.6 127.3 639.6 129.1 Q639.7 130.8 639.8 132.6 Q639.9 134.3 640.1 136.1 Q640.3 137.9 640.4 139.6 Q640.6 141.4 640.7 143.2 Q640.8 144.9 640.9 146.7 Q640.9 148.5 640.9 150.2 Q640.9 152.0 640.8 153.7 Q640.7 155.5 640.6 157.3 Q640.5 159.0 640.4 160.8 Q640.3 162.6 640.2 164.3 Q640.2 166.1 640.2 167.9 Q640.2 169.6 640.2 171.4 Q640.3 173.1 640.4 174.9 Q640.5 176.7 640.7 178.4 Q640.8 180.2 641.0 182.0 Q641.2 183.7 641.3 185.5 Q641.5 187.2 641.6 189.0 Q641.7 190.8 641.8 192.5 L641.9 194.3 M643.6 88.5 Q642.5 92.0 642.2 93.8 Q642.0 95.6 642.0 97.3 Q642.1 99.1 642.4 100.8 Q642.7 102.6 643.1 104.4 Q643.5 106.1 643.8 107.9 Q644.2 109.7 644.4 111.4 Q644.6 113.2 644.5 115.0 Q644.4 116.7 644.2 118.5 Q643.9 120.2 643.4 122.0 Q642.9 123.8 642.4 125.5 Q641.8 127.3 641.3 129.1 Q640.8 130.8 640.5 132.6 Q640.1 134.3 640.0 136.1 Q639.8 137.9 639.9 139.6 Q639.9 141.4 640.2 143.2 Q640.4 144.9 640.7 146.7 Q641.0 148.5 641.2 150.2 Q641.5 152.0 641.7 153.7 Q641.9 155.5 641.9 157.3 Q642.0 159.0 641.9 160.8 Q641.8 162.6 641.7 164.3 Q641.5 166.1 641.3 167.9 Q641.1 169.6 641.0 171.4 Q640.8 173.1 640.8 174.9 Q640.7 176.7 640.7 178.4 Q640.8 180.2 640.9 182.0 Q641.0 183.7 641.2 185.5 Q641.4 187.2 641.5 189.0 Q641.7 190.8 641.8 192.5 L641.9 194.3 M647.1 88.5 Q647.0 92.0 646.9 93.8 Q646.9 95.6 646.8 97.3 Q646.7 99.1 646.6 100.8 Q646.5 102.6 646.4 104.4 Q646.3 106.1 646.1 107.9 Q646.0 109.7 645.7 111.4 Q645.5 113.2 645.3 115.0 Q645.1 116.7 644.8 118.5 Q644.6 120.2 644.3 122.0 Q644.0 123.8 643.8 125.5 Q643.5 127.3 643.2 129.1 Q643.0 130.8 642.7 132.6 Q642.5 134.3 642.3 136.1 Q642.1 137.9 641.9 139.6 Q641.8 141.4 641.6 143.2 Q641.5 144.9 641.4 146.7 Q641.3 148.5 641.3 150.2 Q641.3 152.0 641.2 153.7 Q641.2 155.5 641.2 157.3 Q641.3 159.0 641.3 160.8 Q641.3 162.6 641.4 164.3 Q641.4 166.1 641.5 167.9 Q641.5 169.6 641.6 171.4 Q641.6 173.1 641.7 174.9 Q641.7 176.7 641.7 178.4 Q641.8 180.2 641.8 182.0 Q641.8 183.7 641.8 185.5 Q641.8 187.2 641.9 189.0 Q641.9 190.8 641.9 192.5 L641.9 194.3 M647.2 88.5 Q647.2 92.0 647.2 93.8 Q647.3 95.6 647.4 97.3 Q647.5 99.1 647.6 100.8 Q647.7 102.6 647.7 104.4 Q647.8 106.1 647.7 107.9 Q647.7 109.7 647.6 111.4 Q647.5 113.2 647.3 115.0 Q647.1 116.7 646.9 118.5 Q646.6 120.2 646.2 122.0 Q645.9 123.8 645.5 125.5 Q645.1 127.3 644.7 129.1 Q644.3 130.8 643.9 132.6 Q643.5 134.3 643.2 136.1 Q642.8 137.9 642.5 139.6 Q642.3 141.4 642.1 143.2 Q641.9 144.9 641.8 146.7 Q641.7 148.5 641.6 150.2 Q641.6 152.0 641.6 153.7 Q641.7 155.5 641.7 157.3 Q641.8 159.0 641.9 160.8 Q642.0 162.6 642.1 164.3 Q642.1 166.1 642.2 167.9 Q642.3 169.6 642.3 171.4 Q642.3 173.1 642.3 174.9 Q642.3 176.7 642.3 178.4 Q642.2 180.2 642.2 182.0 Q642.1 183.7 642.1 185.5 Q642.0 187.2 642.0 189.0 Q641.9 190.8 641.9 192.5 L641.9 194.3 M650.0 88.5 Q649.4 92.0 649.2 93.8 Q649.0 95.6 648.9 97.3 Q648.8 99.1 648.7 100.8 Q648.6 102.6 648.5 104.4 Q648.5 106.1 648.5 107.9 Q648.4 109.7 648.4 111.4 Q648.3 113.2 648.2 115.0 Q648.1 116.7 648.0 118.5 Q647.9 120.2 647.7 122.0 Q647.5 123.8 647.3 125.5 Q647.0 127.3 646.7 129.1 Q646.5 130.8 646.1 132.6 Q645.8 134.3 645.5 136.1 Q645.2 137.9 644.9 139.6 Q644.6 141.4 644.3 143.2 Q644.0 144.9 643.7 146.7 Q643.4 148.5 643.2 150.2 Q643.0 152.0 642.8 153.7 Q642.7 155.5 642.5 157.3 Q642.4 159.0 642.4 160.8 Q642.3 162.6 642.3 164.3 Q642.2 166.1 642.2 167.9 Q642.2 169.6 642.2 171.4 Q642.2 173.1 642.2 174.9 Q642.2 176.7 642.2 178.4 Q642.2 180.2 642.2 182.0 Q642.2 183.7 642.2 185.5 Q642.1 187.2 642.1 189.0 Q642.0 190.8 642.0 192.5 L641.9 194.3 M651.8 88.5 Q651.6 92.0 651.6 93.8 Q651.6 95.6 651.5 97.3 Q651.5 99.1 651.5 100.8 Q651.4 102.6 651.2 104.4 Q651.1 106.1 650.8 107.9 Q650.6 109.7 650.2 111.4 Q649.8 113.2 649.4 115.0 Q649.0 116.7 648.5 118.5 Q648.0 120.2 647.5 122.0 Q647.1 123.8 646.6 125.5 Q646.2 127.3 645.8 129.1 Q645.5 130.8 645.2 132.6 Q645.0 134.3 644.8 136.1 Q644.6 137.9 644.6 139.6 Q644.5 141.4 644.5 143.2 Q644.4 144.9 644.4 146.7 Q644.4 148.5 644.4 150.2 Q644.4 152.0 644.4 153.7 Q644.3 155.5 644.2 157.3 Q644.2 159.0 644.0 160.8 Q643.9 162.6 643.7 164.3 Q643.5 166.1 643.3 167.9 Q643.1 169.6 642.9 171.4 Q642.7 173.1 642.5 174.9 Q642.4 176.7 642.2 178.4 Q642.1 180.2 642.0 182.0 Q642.0 183.7 641.9 185.5 Q641.9 187.2 641.9 189.0 Q641.9 190.8 641.9 192.5 L641.9 194.3 M657.2 88.5 Q656.4 92.0 655.8 93.8 Q655.2 95.6 654.6 97.3 Q653.9 99.1 653.1 100.8 Q652.4 102.6 651.8 104.4 Q651.1 106.1 650.6 107.9 Q650.1 109.7 649.8 111.4 Q649.5 113.2 649.4 115.0 Q649.3 116.7 649.2 118.5 Q649.2 120.2 649.2 122.0 Q649.3 123.8 649.2 125.5 Q649.2 127.3 649.1 129.1 Q648.9 130.8 648.7 132.6 Q648.4 134.3 648.0 136.1 Q647.7 137.9 647.2 139.6 Q646.8 141.4 646.3 143.2 Q645.8 144.9 645.4 146.7 Q645.0 148.5 644.8 150.2 Q644.5 152.0 644.3 153.7 Q644.1 155.5 644.0 157.3 Q643.9 159.0 643.9 160.8 Q643.9 162.6 643.9 164.3 Q643.9 166.1 643.8 167.9 Q643.8 169.6 643.7 171.4 Q643.6 173.1 643.4 174.9 Q643.3 176.7 643.1 178.4 Q642.9 180.2 642.7 182.0 Q642.5 183.7 642.4 185.5 Q642.2 187.2 642.1 189.0 Q642.0 190.8 641.9 192.5 L641.9 194.3 M657.5 88.5 Q657.2 92.0 657.0 93.8 Q656.7 95.6 656.4 97.3 Q656.0 99.1 655.6 100.8 Q655.2 102.6 654.6 104.4 Q654.1 106.1 653.5 107.9 Q653.0 109.7 652.4 111.4 Q651.8 113.2 651.2 115.0 Q650.7 116.7 650.1 118.5 Q649.6 120.2 649.2 122.0 Q648.8 123.8 648.5 125.5 Q648.2 127.3 648.0 129.1 Q647.7 130.8 647.6 132.6 Q647.4 134.3 647.3 136.1 Q647.3 137.9 647.2 139.6 Q647.1 141.4 647.0 143.2 Q646.9 144.9 646.8 146.7 Q646.7 148.5 646.6 150.2 Q646.4 152.0 646.2 153.7 Q646.0 155.5 645.7 157.3 Q645.5 159.0 645.2 160.8 Q644.9 162.6 644.6 164.3 Q644.3 166.1 644.0 167.9 Q643.8 169.6 643.5 171.4 Q643.3 173.1 643.1 174.9 Q642.9 176.7 642.7 178.4 Q642.5 180.2 642.4 182.0 Q642.3 183.7 642.2 185.5 Q642.2 187.2 642.1 189.0 Q642.0 190.8 642.0 192.5 L641.9 194.3 M660.7 88.5 Q660.1 92.0 659.7 93.8 Q659.3 95.6 658.7 97.3 Q658.2 99.1 657.5 100.8 Q656.9 102.6 656.2 104.4 Q655.5 106.1 654.8 107.9 Q654.1 109.7 653.4 111.4 Q652.8 113.2 652.3 115.0 Q651.7 116.7 651.3 118.5 Q650.9 120.2 650.7 122.0 Q650.4 123.8 650.2 125.5 Q650.0 127.3 649.9 129.1 Q649.8 130.8 649.8 132.6 Q649.7 134.3 649.6 136.1 Q649.5 137.9 649.3 139.6 Q649.2 141.4 648.9 143.2 Q648.7 144.9 648.4 146.7 Q648.1 148.5 647.7 150.2 Q647.3 152.0 646.9 153.7 Q646.5 155.5 646.1 157.3 Q645.7 159.0 645.3 160.8 Q645.0 162.6 644.7 164.3 Q644.3 166.1 644.1 167.9 Q643.8 169.6 643.6 171.4 Q643.5 173.1 643.3 174.9 Q643.2 176.7 643.1 178.4 Q643.0 180.2 642.9 182.0 Q642.8 183.7 642.7 185.5 Q642.5 187.2 642.4 189.0 Q642.3 190.8 642.1 192.5 L641.9 194.3 M659.8 88.5 Q658.5 92.0 658.2 93.8 Q657.9 95.6 657.9 97.3 Q657.9 99.1 658.0 100.8 Q658.1 102.6 658.2 104.4 Q658.3 106.1 658.2 107.9 Q658.2 109.7 657.8 111.4 Q657.5 113.2 656.9 115.0 Q656.3 116.7 655.5 118.5 Q654.7 120.2 653.8 122.0 Q653.0 123.8 652.2 125.5 Q651.4 127.3 650.8 129.1 Q650.2 130.8 649.8 132.6 Q649.4 134.3 649.2 136.1 Q649.1 137.9 649.1 139.6 Q649.1 141.4 649.1 143.2 Q649.2 144.9 649.1 146.7 Q649.1 148.5 648.9 150.2 Q648.8 152.0 648.5 153.7 Q648.1 155.5 647.7 157.3 Q647.2 159.0 646.7 160.8 Q646.2 162.6 645.7 164.3 Q645.2 166.1 644.8 167.9 Q644.3 169.6 644.1 171.4 Q643.8 173.1 643.6 174.9 Q643.4 176.7 643.3 178.4 Q643.2 180.2 643.1 182.0 Q643.0 183.7 642.9 185.5 Q642.8 187.2 642.6 189.0 Q642.4 190.8 642.1 192.5 L641.9 194.3" fill="none" stroke="#6b6b6b" stroke-width="1.39" stroke-linecap="butt"/>
<path d="M657.5 104 C660.5 106 661 112 658.5 114.5 C656.5 116 654.8 114 656 111" fill="none" stroke="#6b6b6b" stroke-width="1.3"/>
<path d="M623.1 88.5 L625.3 100.0 L627.4 111.3 L629.0 124.0 L630.3 136.0 L632.8 150.0 L635.9 165.0 L638.7 179.0 L641.9 194.3" fill="none" stroke="#800080" stroke-width="4.17" stroke-linejoin="round"/>
<path d="M623.9 88.5 L624.2 100.0 L625.1 111.3 L626.8 124.0 L629.0 136.0 L632.0 150.0 L635.5 165.0 L638.5 179.0 L641.9 194.3" fill="none" stroke="#000" stroke-width="4.17" stroke-linejoin="round"/>
<path d="M635.9 561.4 L637.2 560.4 L638.7 559.7 L639.9 558.7 L641.9 559.4 L643.9 559.4 L645.2 560.4 L646.4 561.6 L647.1 563.0 L648.2 564.5 L648.7 566.2 L648.3 568.2 L647.9 570.2 L645.9 570.5 L643.9 571.0 L641.9 570.7 L639.9 569.9 L638.2 568.7 L636.7 567.0 L636.0 565.4 L635.1 563.8 L635.7 562.7Z M687.9 535.9 L688.5 537.8 L689.3 539.7 L690.3 541.5 L691.2 542.6 L691.6 544.1 L692.2 545.5 L691.3 546.7 L690.6 548.0 L690.3 549.5 L688.7 550.1 L687.0 550.2 L685.5 551.1 L684.0 550.4 L682.6 549.7 L681.0 549.5 L681.2 547.8 L682.0 546.3 L682.3 544.7 L683.6 543.2 L684.4 541.5 L685.5 539.9 L686.0 538.4 L686.9 537.1Z" fill="none" stroke="#000" stroke-width="1.1" stroke-linejoin="round" stroke-linecap="round"/>
<path d="M294.2 198.3 L295.3 201.4 L293.7 204.5 L294.8 207.6 M284.5 226.8 L286.5 229.4 L288.1 228.3 M287.6 264.4 L289.4 264.1 L291.2 264.4 L292.6 263.3 L294.0 262.1 L295.3 260.8 L296.6 259.0 L298.4 257.7 L297.7 259.7 L297.7 261.9 L296.8 263.9 L296.2 265.3 L295.0 266.2 L294.2 267.5 L292.7 265.9 L290.9 265.6 L289.4 264.6Z M314.3 405.7 L315.5 406.3 L316.4 407.2 L316.2 408.6 L315.4 409.8 L315.8 411.1 L316.9 411.9 L315.6 412.2 L314.3 412.9 M372.0 340.8 L373.4 340.9 L374.6 340.6 L375.3 342.7 L375.3 344.9 L375.9 347.0 L376.7 349.0 L377.3 351.0 L377.7 353.1 L376.8 353.7 L375.6 353.9 L373.8 353.1 L372.0 352.1 L371.2 350.8 L370.2 349.5 L370.6 347.7 L371.2 345.9 L371.4 344.2 L371.5 342.4Z M454.9 429.6 L457.4 431.7 L456.4 434.8 M1572.1 89.9 L1575.6 90.2 L1574.1 91.6Z" fill="none" stroke="#000" stroke-width="1.2" stroke-linejoin="round" stroke-linecap="round"/>
<path d="M94.1 120.5 L96.1 123.1 L95.6 126.2 M85.8 135.0 L88.9 134.5 L87.9 137.0 M184.2 170.0 L185.8 169.7 L187.1 169.0 L188.3 167.9 L189.8 167.2 L191.1 166.2 L192.5 165.4 L193.6 164.2 L194.6 163.0 L196.1 162.3 L197.0 163.2 L197.6 164.3 L196.6 165.4 L195.6 166.6 L195.0 167.9 L193.9 168.9 L192.5 169.5 L191.4 170.5 L189.5 171.0 L187.6 171.7 L185.8 172.6 L185.1 171.2Z M207.4 164.3 L209.5 164.9 L209.1 166.7 L209.2 168.6 L209.0 170.5 L208.0 171.5 L207.4 172.6 L205.9 171.0 L206.1 169.2 L206.7 167.4 L207.0 165.9Z M241.4 168.5 L244.0 167.9 L243.5 172.1Z M96.1 437.9 L97.7 438.2 L99.2 438.2 L100.8 438.2 L102.5 439.1 L104.0 440.3 L105.9 441.0 L107.4 439.9 L109.0 438.9 L110.8 439.1 L112.6 439.7 L114.4 439.4 L116.2 439.9 L118.3 439.6 L120.4 439.9 L122.4 439.0 L124.5 439.2 L126.6 438.9 L128.6 438.1 L130.6 437.4 L132.7 437.0 L134.7 436.6 L136.9 436.7 L138.9 436.1 L138.4 435.3 L136.4 435.1 L134.5 435.9 L132.6 435.7 L130.6 435.8 L128.6 436.0 L126.5 436.2 L124.5 436.6 L122.4 436.9 L120.3 436.8 L118.3 436.8 L116.2 436.7 L114.2 437.4 L112.1 437.3 L110.0 437.2 L108.2 437.5 L106.5 438.1 L104.9 438.9 L103.2 438.3 L101.3 438.3 L99.7 437.4 L97.9 437.4Z M241.2 168.7 L244.3 167.9 L243.4 172.1Z M293.2 202.1 L294.8 204.6 L293.2 207.2 M282.9 215.5 L284.2 215.5 L285.5 215.5 L285.9 217.5 L286.5 219.6 L287.7 221.3 L288.6 223.2 L289.6 225.0 L290.6 226.8 L290.7 228.9 L290.4 230.9 L288.6 231.9 L287.4 231.2 L286.0 230.9 L284.7 229.6 L283.4 228.3 L282.4 227.2 L281.9 225.8 L280.9 224.2 L281.2 222.3 L281.9 220.6 L282.1 218.9 L282.8 217.2Z M313.3 334.1 L314.9 337.2 M392.1 358.8 L398.8 356.2 L400.4 363.4 L396.8 361.9Z M464.7 303.4 L466.7 305.0 L468.7 303.4 M1008.3 206.8 L1010.8 206.8 M989.2 237.9 L991.6 237.9 M1591.5 109.5 L1593.2 108.9 L1595.1 108.6 L1596.9 108.7 L1598.0 110.0 L1598.7 111.5 L1599.5 113.2 L1600.2 115.0 L1601.0 116.7 L1601.8 118.7 L1602.7 120.7 L1603.9 122.5 L1604.9 123.7 L1605.5 125.2 L1606.2 126.5 L1606.1 128.6 L1606.2 130.6 L1604.4 130.6 L1603.8 129.2 L1603.3 127.7 L1602.0 128.6 L1600.4 128.9 L1599.1 127.8 L1597.6 127.0 L1596.4 126.0 L1595.6 124.2 L1594.6 122.5 L1593.5 120.8 L1592.3 119.0 L1591.5 117.1 L1590.0 115.6 L1590.9 114.3 L1591.2 112.7 L1591.0 111.1Z M1615.4 89.9 L1616.0 93.7 L1618.3 96.5 L1621.2 98.6" fill="none" stroke="#000" stroke-width="1.3" stroke-linejoin="round" stroke-linecap="round"/>
<path d="M118.1 122.1 L119.5 122.1 M144.6 132.2 L146.9 133.0" fill="none" stroke="#000" stroke-width="1.36" stroke-linejoin="round" stroke-linecap="round"/>
<path d="M212.6 135.5 L213.3 136.6 L214.3 137.6 L214.0 139.6 L213.6 141.7 L213.2 143.5 L212.6 145.3 L210.8 145.8 L210.9 144.2 L211.2 142.7 L211.1 140.6 L211.5 138.6 L211.9 137.0Z M250.2 166.9 L251.2 169.5 M283.4 190.1 L285.5 191.6 L287.6 189.6 M250.2 166.9 L251.3 169.7 M471.3 401.8 L473.9 405.9 M664.5 317.8 L667.7 321.3" fill="none" stroke="#000" stroke-width="1.4" stroke-linejoin="round" stroke-linecap="round"/>
<path d="M80.7 231.4 L82.0 231.7 L83.2 231.4 L84.4 232.8 L85.8 234.0 L87.0 234.9 L87.9 236.1 L88.3 238.0 L89.4 239.7 L90.6 241.0 L92.0 242.2 L92.1 243.5 L92.3 244.8 L91.0 246.4 L92.1 247.7 L92.5 249.5 L92.9 251.0 L93.3 252.6 L93.4 253.9 L93.0 255.1 L93.9 256.5 L95.1 257.7 L95.8 259.1 L96.2 260.6 L97.2 261.8 L98.1 263.7 L99.2 265.4 L99.8 267.1 L100.8 268.5 L101.7 270.3 L102.3 272.1 L103.5 273.5 L104.9 274.7 L104.9 276.5 L105.4 278.3 L105.7 279.5 L106.4 280.4 L105.9 282.4 L104.4 283.1 L102.8 283.5 L101.7 282.2 L100.2 281.4 L98.9 279.6 L97.2 278.3 L95.9 277.4 L94.6 276.8 L93.3 277.5 L92.5 278.8 L91.5 277.5 L89.9 276.8 L89.4 274.7 L90.7 273.7 L92.0 272.6 L92.3 270.8 L92.5 269.0 L91.3 267.6 L90.5 265.9 L89.3 264.7 L87.9 263.9 L87.1 262.6 L85.8 261.8 L85.5 259.9 L85.3 258.0 L84.8 256.2 L84.5 254.1 L83.8 252.0 L83.2 250.4 L82.2 248.9 L80.7 247.4 M118.8 258.2 L120.2 256.7 L121.9 255.6 L123.1 256.4 L124.5 256.7 L125.8 257.9 L127.1 259.2 L128.6 260.3 L130.0 261.4 L131.3 262.8 L132.7 263.9 L134.1 265.3 L135.8 266.5 L135.3 268.0 L134.0 267.2 L132.6 266.5 L131.2 265.9 L129.6 265.8 L128.3 265.2 L127.0 264.4 L125.0 264.9 L123.7 265.5 L122.4 265.9 L121.5 264.6 L120.3 263.4 L119.6 261.7 L119.5 259.9Z M135.8 270.6 L137.0 270.2 L138.1 269.6 L139.8 270.6 L140.9 272.1 L142.0 273.2 L143.0 274.4 L142.1 275.4 L140.9 276.0 L139.5 276.5 L138.1 276.2 L136.9 275.4 L136.3 274.2 L135.9 272.4Z M168.3 298.4 L169.7 298.9 L170.8 299.9 L172.2 300.8 L173.5 301.7 L174.4 303.0 L175.5 304.4 L176.6 305.7 L177.5 307.2 L178.5 309.0 L179.6 310.8 L179.8 312.6 L180.1 314.4 L180.8 316.4 L181.1 318.5 L180.8 320.6 L181.1 322.6 L182.3 323.6 L182.7 325.0 M168.3 298.4 L167.4 299.5 L166.5 300.5 L166.4 302.0 L166.0 303.6 L165.7 305.1 L166.5 307.1 L166.7 309.2 L167.0 310.7 L167.8 311.9 L168.3 313.3 L169.4 314.3 L169.9 315.8 L170.8 317.0 L172.4 318.0 L173.4 319.5 L172.9 321.3 L172.4 323.1 L171.9 325.0 M169.3 315.0 L170.9 316.2 L172.4 317.6 L173.1 318.6 L173.9 319.6 L172.6 321.2 L171.9 323.2 L171.8 325.0 L172.3 326.7 L172.4 328.4 L172.3 330.1 L172.6 331.8 L172.9 333.5 L173.2 335.3 L173.5 337.0 L173.4 338.7 L173.6 340.4 L173.8 342.1 L174.1 343.9 L174.2 346.0 L174.9 348.0 L173.4 349.3 L172.4 351.1 L171.4 352.4 L170.8 353.9 L169.8 355.2 L168.8 356.4 L168.8 358.1 L167.7 359.3 L167.5 361.4 L168.7 362.2 L169.3 363.4 L170.5 364.5 L171.9 365.5 L171.8 367.0 L171.9 368.6 L172.9 370.0 L173.4 371.7 L174.1 373.3 L174.9 374.8 L174.9 376.6 L175.5 378.4 L175.3 380.2 L174.9 382.0 L175.3 383.5 L175.5 385.1 L176.2 386.5 L176.5 388.2 L177.6 389.1 L178.6 390.2 L179.4 391.1 L180.6 391.2 L181.2 392.8 L181.6 394.3 L181.0 395.8 L181.1 397.4 L180.1 398.3 L179.6 399.5 L179.5 401.0 L179.6 402.6 L180.5 403.8 L181.1 405.2 L182.2 406.3 L183.7 406.7 L184.7 406.2 L185.8 405.7 L186.0 404.1 L186.3 402.6 L185.9 401.1 L185.8 399.5 L186.6 400.6 L187.8 401.0 L188.6 402.3 L189.4 403.6 L191.0 405.0 L192.5 406.7 L194.0 408.0 L195.6 409.3 L196.6 408.3 L195.6 406.5 L195.3 404.4 L194.5 402.6 L194.0 400.9 L193.3 399.2 L193.0 397.4 L192.4 395.8 L191.4 394.3 L189.7 393.8 L187.8 393.8 L187.3 392.3 L187.5 390.7 L187.3 389.2 L186.6 387.2 L186.3 385.1 L186.4 383.0 L185.8 380.9 L185.5 378.8 L184.7 376.8 L185.0 374.7 L185.8 372.7 L185.3 370.7 L185.3 368.6 L184.5 367.3 L184.6 365.7 L183.7 364.5 L183.3 362.4 L183.2 360.3 L183.5 358.8 L183.7 357.2 L185.2 356.7 L186.8 356.2 L187.4 354.9 L187.9 353.5 L188.3 352.1 L189.1 350.1 L189.4 348.0 L189.2 346.2 L189.6 344.4 L189.2 343.0 L188.3 341.8 L187.0 340.9 L185.8 339.7 L184.2 338.4 L182.7 337.2 L181.5 335.7 L180.6 334.1 L181.0 332.7 L181.6 331.5 L182.2 329.9 L182.7 328.4 L182.4 326.6 L182.2 324.8 L181.5 323.0 L181.1 321.2 L181.1 319.6 L180.6 318.1 L180.4 316.5 L180.1 315.0 M195.0 411.3 L196.2 411.5 L197.1 412.4 L197.1 414.5 L196.6 416.5 L194.5 417.0 L194.0 415.5 L193.5 413.9 L194.6 412.8Z M205.3 426.8 L206.6 427.4 L207.9 427.3 L208.4 429.4 L209.0 431.4 L208.8 433.1 L207.9 434.5 L206.4 434.3 L204.8 434.5 L203.7 433.0 L202.8 431.4 L203.3 429.9 L203.8 428.3Z M503.8 353.9 L504.8 355.5 L505.9 357.0 L506.3 358.8 L506.9 360.6 L508.1 362.2 L509.5 363.7 L509.8 365.1 L510.6 366.4 L511.0 367.8 L512.6 369.1 L513.6 370.9 L515.4 371.6 L516.7 373.0 L517.4 375.0 L517.7 377.1 L518.6 378.3 L518.4 380.0 L519.3 381.2 L519.8 382.8 L520.1 384.4 L520.8 385.9 L521.7 387.3 L521.9 388.9 L522.3 390.5 L522.4 392.3 L522.9 393.9 L523.4 395.6 L523.6 397.7 L523.7 399.8 L523.9 401.8 L524.4 403.9 L524.5 405.9 L524.4 408.0 L524.9 410.0 L524.9 412.1 L524.9 414.2 L525.5 415.9 L525.6 417.7 L526.5 419.3 L527.4 420.8 L528.0 422.3 L528.5 424.0 L529.4 425.3 L530.2 426.6 L530.6 428.1 L531.0 429.6 L531.1 431.2 L531.0 432.8 L530.4 434.3 L530.1 435.8 L529.9 437.5 L528.7 438.8 L528.5 440.5 L527.6 442.3 L526.5 444.1 L525.0 444.7 L523.9 445.9 L522.7 444.9 L521.3 444.1 L520.9 442.6 L520.3 441.3 L519.8 439.9 L519.6 438.3 L518.4 437.0 L518.2 435.3 L518.1 434.0 L517.7 432.7 L516.2 432.9 L514.6 432.7 L513.3 433.4 L512.0 434.3 L511.7 435.8 L511.8 437.4 L512.7 439.4 L513.1 441.5 L513.5 443.0 L513.8 444.5 L513.6 446.1 L514.8 447.6 L515.6 449.2 L516.7 450.3 L517.2 451.8 L517.1 453.4 L516.5 454.8 L516.7 456.4 L516.3 458.5 L515.6 460.6 L514.9 462.1 M503.8 353.9 L502.6 355.3 L501.2 356.5 L500.2 358.3 L499.2 360.1 L498.3 361.3 L497.1 362.2 L496.1 363.9 L495.6 365.8 L495.9 367.9 L496.6 369.9 L497.4 371.9 L497.6 374.0 L497.3 375.5 L496.5 376.7 L496.1 378.1 L495.2 379.6 L495.0 381.2 L494.7 383.3 L494.5 385.3 L493.0 386.7 L491.4 387.9 L490.0 387.3 L488.3 387.4 L487.3 388.8 L485.8 389.5 L484.8 391.2 L483.2 392.6 L482.5 394.3 L482.2 396.2 L480.8 395.4 L479.6 394.6 L478.5 393.2 L478.0 391.5 L476.8 390.5 L475.5 389.5 L474.1 390.2 L473.4 391.5 L473.6 393.6 L473.9 395.6 L474.6 397.1 L474.9 398.7 L475.0 400.8 L474.4 402.9 L474.0 404.6 L472.9 405.9 L471.9 407.2 L471.5 408.7 L470.8 410.1 L470.7 411.9 L471.3 413.7 L470.6 415.7 L469.3 417.3 L468.8 418.7 L468.2 420.2 L467.2 421.4 L466.4 422.8 L465.8 424.3 L464.6 425.5 L462.6 426.0 L462.7 424.4 L463.2 422.9 L463.6 421.4 L462.9 419.9 L462.6 418.3 L461.8 419.4 L460.5 419.9 L460.4 421.3 L459.5 422.4 L457.7 423.7 L456.4 425.5 L455.0 426.8 L453.3 427.6 L451.9 428.3 L450.6 429.0 L449.2 429.6 L447.6 430.9 L446.1 432.2 L444.9 433.4 L443.4 434.1 L442.0 434.8 L440.9 436.6 L439.4 437.9 L438.3 438.9 L437.3 439.9 L436.1 439.3 L434.8 439.4 L433.7 440.1 L432.7 441.0 L431.6 439.9 L430.1 439.4 L429.0 440.4 L427.6 441.0 L426.2 441.1 L425.0 440.5 L423.9 441.7 L422.9 443.0 L421.6 444.1 L420.3 445.1 L418.3 444.8 L416.2 444.6 L414.7 445.2 L413.1 445.6 L411.5 446.8 L410.0 448.2 L408.4 449.3 L406.9 450.8 L404.9 450.2 L402.8 450.3 L400.7 450.0 L398.7 449.4 L398.0 450.9 L397.2 452.3 L397.1 454.4 L397.7 456.4 L397.6 458.5 L397.2 460.6 L396.4 462.6 M397.2 455.0 L398.2 456.4 L398.5 458.1 L397.7 460.1 L397.2 462.2 L396.6 463.8 L395.7 465.1 L394.6 466.3 L393.7 468.1 L392.6 469.8 L391.5 471.5 L390.7 473.2 L389.5 474.6 L388.4 476.1 L387.8 477.6 L386.8 478.8 L386.3 480.2 L386.7 482.1 L387.2 483.9 L387.8 485.3 L388.9 486.4 L388.6 488.0 L388.4 489.5 L388.4 491.1 L388.5 492.8 L388.8 494.5 L388.9 496.2 L388.6 497.8 L388.8 499.3 L388.9 500.9 L389.3 502.4 L390.1 503.7 L391.0 505.0 L391.7 506.3 L392.8 507.3 L393.5 508.6 L393.2 510.5 L393.5 512.4 L393.3 514.2 L394.0 516.0 L394.1 517.9 L395.2 519.0 L396.0 520.5 L396.6 522.0 L397.5 523.3 L397.9 524.8 L398.7 526.1 L398.4 527.5 L398.0 529.0 L397.2 530.2 L397.5 532.3 L398.2 534.3 L398.5 536.4 L398.9 538.5 L398.5 540.0 L397.7 541.4 L396.6 542.6 L396.0 544.1 L395.0 545.4 L394.1 546.7 L392.3 548.0 L391.0 549.8 L390.1 551.0 L389.9 552.5 L389.4 553.9 L388.3 555.6 L386.8 557.0 L386.4 558.4 L385.9 559.8 L385.3 561.1 L384.9 562.9 L384.7 564.7 L383.8 566.3 L382.4 567.5 L381.2 568.9 L379.3 568.8 L377.6 569.4 M516.7 455.0 L517.0 456.4 L517.7 457.6 L517.2 459.5 L516.2 461.2 L514.9 462.2 L513.6 463.2 L515.5 464.0 L517.2 465.3 L515.6 465.1 L514.1 465.3 L512.6 465.9 L511.0 466.3 L510.0 467.5 L509.4 469.0 L509.0 470.5 L508.7 471.9 L508.1 473.3 L507.4 474.6 L506.8 476.1 L506.9 477.7 L507.9 479.5 L509.0 481.3 L509.4 483.1 L509.8 484.9 L509.4 486.6 L508.7 488.3 L508.4 490.0 L507.7 491.7 L507.7 493.5 L507.4 495.2 L506.5 496.8 L506.3 498.6 L505.9 500.3 L505.5 502.3 L504.2 504.0 L503.8 506.0 L503.2 507.7 L502.9 509.5 L501.5 510.9 L501.2 512.7 L500.9 514.6 L499.9 516.3 L499.3 518.1 L498.6 519.9 L497.7 521.9 L497.4 524.1 L496.6 526.1 L496.1 528.2 L495.4 530.3 L494.5 532.3 L494.6 534.2 L494.1 536.1 L494.0 537.9 L493.3 539.9 L492.1 541.6 L491.4 543.6 L491.0 545.7 L490.2 547.8 L489.4 549.8 L489.1 551.7 L488.0 553.3 L487.6 555.1 L487.3 557.0 L486.5 558.7 L486.2 560.6 L485.8 562.4 L485.3 564.2 L484.9 566.2 L483.8 568.0 L483.4 570.0 M377.5 571.5 L376.8 572.8 L376.1 574.1 L376.8 575.9 L376.6 577.7 L375.8 579.1 L374.8 580.4 L373.5 581.3 L372.7 582.6 L371.9 583.9 L371.5 585.5 L370.7 586.9 L369.4 588.0 L370.3 589.5 L371.5 590.6 L371.6 592.3 L371.2 594.0 L371.3 595.8 L371.4 597.5 L372.0 599.2 L372.5 600.9 L372.8 602.5 L373.6 604.0 L374.1 605.5 L375.3 606.5 L375.8 608.0 L376.6 609.2 L378.0 610.5 L379.5 611.7 L379.9 613.3 L379.8 614.8 L379.7 616.4 L381.1 617.8 L382.3 619.5 L383.2 621.2 L383.3 623.1 L382.0 623.9 L380.6 624.5 L379.2 625.1 L379.4 626.7 L379.4 628.2 L379.7 629.8 L380.0 631.5 L379.7 633.2 L380.2 634.9 L380.3 636.7 L380.6 638.4 L381.3 640.1 L381.6 641.8 L382.0 643.5 L382.6 645.2 L383.5 646.8 L384.3 648.4 L385.4 649.9 L387.0 651.3 L388.5 652.9 L388.6 654.5 L388.7 656.1 L389.0 657.6 L390.2 658.5 L391.5 659.2 L392.6 660.2 L394.0 660.9 L395.2 662.0 L396.2 663.3 L398.3 663.6 L400.3 664.3 L402.0 664.9 L403.7 665.5 L405.5 665.8 L406.8 667.0 L408.3 667.8 L409.6 668.9 L410.8 670.3 L412.5 671.0 L413.7 672.2 L415.8 672.2 L417.9 671.8 L419.9 671.3 L422.0 671.5 L423.5 670.8 L424.8 669.9 L426.1 668.9 L427.7 668.2 L429.0 667.1 L430.2 665.8 L432.0 665.1 L433.8 664.4 L435.4 663.3 L437.3 662.9 L439.2 662.2 L441.0 661.5 L443.0 661.5 L444.8 662.0 L446.7 662.2 L448.3 661.6 L449.3 660.3 L450.8 659.6 L452.4 659.3 L453.6 658.3 L454.9 657.6 L455.9 656.2 L456.7 654.6 L458.0 653.5 L458.6 651.4 L459.2 649.3 L460.1 647.3 L460.7 645.5 L461.5 643.8 L462.0 642.0 L462.2 640.1 L462.9 638.6 L463.4 636.9 L463.8 635.3 L464.7 633.9 L465.5 631.9 L466.1 629.8 L466.8 627.8 L467.3 625.6 L467.7 623.6 L468.7 621.6 L468.6 619.4 L469.4 617.4 L469.7 615.3 L470.2 613.2 L471.0 611.2 L471.4 609.2 L472.1 607.2 L471.9 605.0 L472.7 603.0 L473.0 600.9 L473.7 598.9 L473.8 596.7 L474.2 594.6 L475.0 592.7 L475.7 590.9 L476.6 589.2 L477.3 587.4 L477.6 585.5 L478.6 583.8 L479.3 582.0 L480.2 580.3 L480.8 578.6 L481.6 576.9 L482.3 575.2 L483.1 573.5 L483.1 571.7 L483.8 570.0 M362.8 89.9 L361.2 91.0 L360.0 92.5 L358.6 93.8 L357.6 95.7 L356.0 97.2 L354.5 98.9 L353.7 100.5 L352.4 101.7 L351.7 103.4 L350.4 104.6 L349.2 106.3 L347.9 107.9 L346.3 109.2 L344.9 110.9 L343.2 112.4 L342.2 114.4 L341.1 115.9 L340.2 117.5 L338.8 118.8 L338.0 120.5 L337.0 122.4 L335.6 124.0 L334.0 125.4 L332.9 127.2 L331.9 128.8 L330.2 129.7 L329.1 131.2 L327.7 132.4 L326.3 134.1 L324.4 135.3 L322.6 136.5 L321.3 137.8 L320.1 139.2 L318.7 140.4 L317.4 141.7 L316.3 143.2 L314.8 144.3 L313.3 145.3 L311.9 144.5 L310.2 144.6 L308.7 145.2 L307.1 145.8 L305.9 146.8 L304.6 147.9 L304.4 149.5 L303.5 150.9 L304.0 153.0 L304.0 155.1 L303.2 156.7 L302.9 158.5 L302.5 160.2 L301.2 161.8 L299.9 163.3 L299.8 164.8 L299.0 166.1 L298.4 167.4 L297.3 169.0 L296.7 170.9 L295.8 172.6 L294.7 174.4 L293.4 176.2 L292.7 178.3 L291.8 180.0 L291.2 181.9 L290.4 183.5 L290.1 185.4 L289.1 187.0 L288.6 188.4 L287.2 189.3 L286.5 190.6 L284.5 191.1 L282.4 191.1 L282.0 192.7 L281.4 194.2 L280.8 196.2 L280.9 198.3 L280.3 200.4 L280.3 202.5 M280.3 203.1 L279.6 204.4 L278.7 205.7 L278.3 207.2 L277.9 208.7 L277.0 210.0 L276.2 211.3 L275.7 212.7 L275.1 214.1 L274.7 215.5 L274.2 217.6 L273.3 219.6 L273.0 221.1 L272.6 222.7 L273.6 224.1 L273.9 225.8 L274.6 227.5 L274.7 229.4 L275.8 230.3 L276.7 231.4 L278.2 231.9 L279.3 233.0 L280.3 234.5 L281.9 235.5 L283.1 237.0 L283.9 238.6 L285.6 239.2 L287.0 240.2 L288.2 241.4 L289.6 242.2 L289.9 243.6 L290.6 244.8 L290.0 246.2 L289.1 247.4 L287.6 248.2 L286.5 249.5 L285.7 251.0 L285.0 252.6 L284.5 254.4 L283.9 256.2 L283.8 258.0 L283.9 259.8 L284.9 260.7 L285.5 261.8 L286.7 262.7 L287.6 263.9 L286.7 265.3 L286.5 267.0 L285.5 268.5 L284.5 270.1 L283.9 271.6 L283.9 273.2 L284.5 275.2 L284.5 277.3 L285.3 279.3 L285.5 281.4 L286.8 282.7 L287.6 284.5 L288.4 286.1 L289.6 287.6 L290.3 289.2 L291.2 290.7 L292.1 292.6 L292.2 294.8 L293.1 296.8 L293.2 298.9 L293.6 301.1 L294.6 303.0 L294.9 305.1 L295.3 307.2 L294.5 308.3 L294.2 309.7 L295.7 309.9 L296.8 310.8 L298.1 312.1 L299.4 313.3 L301.3 313.8 L303.0 314.9 L305.0 315.6 L307.1 315.9 L308.1 317.3 L309.2 318.5 L310.1 320.1 L311.2 321.6 M302.5 315.5 L304.1 315.5 L305.6 316.1 L307.1 316.5 L308.3 317.6 L309.5 318.7 L310.2 320.2 L311.0 321.6 L312.1 322.8 L312.8 324.3 L313.6 325.5 L313.8 327.0 L314.3 328.4 L314.5 330.5 L315.4 332.5 L314.3 333.9 L313.8 335.6 L312.0 336.7 L310.2 337.7 L309.4 339.2 L308.2 340.2 L308.7 341.6 L309.7 342.8 L309.8 344.9 L309.2 346.9 L309.7 348.7 L310.6 350.3 L310.7 352.1 L310.9 354.3 L311.8 356.2 L312.0 358.3 L312.3 360.3 L312.1 362.4 L311.8 364.5 L312.5 366.5 L312.8 368.6 L312.8 370.6 L312.8 372.7 L311.9 374.7 L311.8 376.8 L312.1 378.9 L312.3 380.9 L312.8 383.0 L312.8 385.1 L312.4 387.1 L312.1 389.2 L312.2 391.3 L313.1 393.3 L313.6 395.4 L313.8 397.4 L314.1 399.5 L314.5 401.6 L313.8 403.0 L313.8 404.6 L315.2 406.1 L316.4 407.7 L317.2 409.4 L318.5 410.8 L318.6 412.5 L319.1 414.2 L319.0 416.0 L319.1 418.1 L318.5 420.1 L317.1 421.4 L316.4 423.2 L315.9 425.3 L315.4 427.3 L314.8 428.7 L314.1 430.0 M314.6 430.0 L313.8 431.4 L312.7 432.7 L312.0 434.1 L311.0 435.8 L309.7 437.3 L308.4 438.8 L307.3 440.7 L305.5 442.1 L304.3 443.9 L303.0 445.6 L301.7 447.2 L300.6 449.1 L299.8 450.4 L299.0 451.8 L298.1 453.2 L296.6 454.6 L295.0 455.8 L293.2 456.6 L291.6 457.9 L289.8 458.9 L288.2 459.8 L286.6 460.7 L285.2 462.0 L283.6 463.0 L282.2 464.4 L281.2 466.3 L279.5 467.6 L278.2 468.3 L276.7 468.4 L275.4 469.2 L273.4 470.0 L271.4 470.5 L269.2 470.7 L267.8 471.7 L266.0 471.8 L264.7 472.9 L263.0 473.3 L261.3 474.0 L259.6 474.7 L257.9 475.3 L256.1 475.8 L254.5 476.7 L252.7 477.4 L251.0 478.2 L249.5 479.5 L247.6 480.0 L245.7 480.8 L244.0 481.8 L242.4 483.1 L240.8 484.0 L239.2 484.9 L237.8 486.2 L236.9 487.3 L235.9 488.5 L235.2 489.8 L233.9 491.1 L233.1 492.8 L232.1 494.4 L231.4 495.9 L229.8 496.6 L229.0 498.0 L227.4 499.1 L226.5 500.9 L224.9 502.1 L224.0 503.6 L222.6 504.6 L221.3 505.7 L221.1 507.4 L220.4 508.9 L219.8 510.4 L219.0 511.6 L217.7 512.2 L215.7 512.6 L213.6 512.4 L211.6 513.4 L209.5 513.5 L208.3 514.5 L207.2 515.7 L205.9 516.6 L204.5 517.8 L203.5 519.4 L202.2 520.7 L201.3 522.4 L199.5 523.5 L198.6 525.3 L197.0 526.5 L195.8 527.9 L194.5 529.4 L193.1 530.8 L191.5 531.9 L189.9 533.0 L188.1 534.1 L186.3 535.1 L185.3 536.2 L184.2 537.2 L184.8 539.2 L184.5 541.3 L183.9 543.4 L183.2 545.4 M183.4 543.6 L183.0 545.2 L182.3 546.6 L182.2 548.2 L182.9 549.8 L183.7 551.3 L184.9 552.2 L186.0 553.2 L187.3 553.9 L188.5 555.5 L189.9 557.0 L190.6 558.3 L191.3 559.7 L192.0 561.1 L191.7 563.3 L190.9 565.2 L191.2 567.0 L191.4 568.9 L192.2 570.8 L193.5 572.5 L194.5 573.6 L195.3 574.8 L196.1 576.1 L196.2 577.8 L196.3 579.5 L196.6 581.2 L197.0 582.9 L197.0 584.6 L197.1 586.4 L196.9 588.4 L197.1 590.5 L198.4 590.1 L199.7 590.5 L200.2 589.3 L201.2 588.4 L201.5 590.0 L202.3 591.5 L201.6 593.2 L201.9 595.0 L201.2 596.7 L201.6 598.4 L201.1 600.1 L201.2 601.8 L201.7 603.5 L201.8 605.3 L202.3 607.0 L203.3 608.0 L202.9 609.6 L201.9 610.8 L201.2 612.1 L201.2 613.9 L200.7 615.6 L200.2 617.3 L199.7 619.0 L199.5 620.7 L199.2 622.4 L198.6 624.5 L198.6 626.6 L200.0 628.1 L201.7 629.1 L201.9 630.9 L202.3 632.7 L201.5 634.2 L201.5 635.9 L200.7 637.4 L199.7 638.9 L198.8 640.5 L197.6 642.0 L196.2 643.7 L195.1 645.6 L193.5 647.2 L191.8 647.8 L190.5 649.1 L188.9 649.9 M190.0 650.0 L187.9 650.5 L185.9 651.4 L183.9 652.4 L181.8 653.0 L180.1 653.7 L178.4 654.3 L176.6 654.7 L174.8 655.2 L173.1 655.8 L171.5 656.7 L169.8 657.6 L168.1 658.4 L166.4 659.3 L164.5 659.6 L162.9 660.6 L161.1 661.1 L159.4 662.3 L157.6 662.8 L155.8 663.6 L154.0 664.3 L152.2 664.8 L150.6 665.6 L149.2 666.6 L147.8 667.8 L146.2 668.5 L144.6 669.6 L143.4 671.2 L141.8 672.3 L140.7 673.9 L140.6 675.8 L139.5 677.5 L138.4 679.3 L137.3 681.2 L136.2 681.1 L135.1 681.5 L135.9 683.0 L137.1 684.2 L138.1 685.6 L139.4 687.0 L141.0 687.9 L142.5 688.9 L143.4 687.3 L144.0 685.6 L144.0 683.7 L144.7 681.9 L144.9 683.6 L144.6 685.2 L144.5 686.9 L144.4 688.6 L144.7 690.5 L144.0 692.3 L144.2 694.2 L144.0 696.0 L143.9 698.0 L143.7 700.0 L143.6 701.9 L142.9 703.9 L143.0 705.9 L142.5 707.9 L141.7 709.8 L141.0 711.8 L140.3 713.8 L139.7 715.8 L139.5 717.8 L138.8 719.7 L138.6 721.6 L138.1 723.5 L137.6 725.3 L137.3 727.2 L136.8 729.0 L136.9 730.9 L136.3 732.7 L135.8 734.6 L135.1 736.5 L134.6 738.6 L133.6 740.5 L133.6 742.1 L132.6 743.4 L132.6 745.0 L131.5 746.7 L129.8 747.9 L128.4 749.4 L127.1 751.0 L125.7 752.7 L124.0 753.9 L122.3 754.6 L120.6 755.3 L118.8 755.7 L117.5 757.1 L115.9 758.2 L115.1 760.1 L113.6 761.3 L112.4 762.9 L110.9 764.2 L109.6 765.7 L108.4 767.2 L107.5 769.2 L106.1 770.8 L104.7 772.4 L104.1 774.2 L102.9 775.8 L102.5 777.6 L101.8 779.6 L101.2 781.6 L100.2 783.6 L99.5 785.0 L98.8 786.5 L98.3 788.1 L97.3 789.5 L96.2 791.1 L95.2 792.7 L94.5 794.5 L93.5 796.2 L92.4 797.8 L91.1 799.4 L89.9 801.0 L89.1 802.8 L87.7 804.5 L86.8 806.4 L85.2 807.8 L83.9 809.5 L82.7 810.9 L81.8 812.6 L80.6 814.0" fill="none" stroke="#000" stroke-width="1.45" stroke-linejoin="round" stroke-linecap="round"/>
<path d="M123.0 90.0 L121.8 91.8 L122.3 93.0 L123.0 94.1 L121.9 95.4 L121.3 97.0 L120.2 98.3 L119.5 99.8 L118.6 101.5 L118.4 103.3 L117.5 104.8 L116.9 106.5 L117.2 107.9 L118.1 109.1 L119.1 110.0 L119.5 111.4 L120.3 112.8 L121.0 114.3 L120.4 115.7 L120.7 117.2 L120.0 118.6 L119.5 120.0 L118.8 121.1 L118.7 122.4 L118.7 124.1 L118.1 125.8 L117.5 127.6 L116.9 129.3 L116.5 130.8 L115.8 132.2 L114.9 133.9 L115.9 134.5 L116.9 135.0 L116.6 136.5 L116.3 137.9 L116.3 139.2 L115.5 140.2 L116.6 140.6 L117.5 141.4 L118.2 142.5 L118.7 143.7 L117.9 144.7 L117.8 146.0 L118.0 147.5 L118.7 148.9 L119.4 150.0 L119.5 151.2 L120.7 150.5 L121.5 149.5 L122.8 149.5 L123.8 150.1 L123.7 148.6 L123.3 147.2 L124.3 146.3 L125.6 146.0 L126.1 144.6 L127.3 143.7 L127.3 142.2 L126.7 140.8 L126.8 139.3 L127.3 137.9 L129.0 138.5 L130.1 139.5 L130.8 140.8 L131.7 142.0 L133.1 142.5 L134.0 143.9 L135.4 144.9 L136.1 143.9 L137.1 143.1 L138.9 142.0 L139.8 143.1 L141.2 143.7 L141.7 144.9 L142.3 146.0 L141.9 147.4 L141.7 148.9 L141.2 150.5 L140.3 151.8 L140.1 153.5 L140.6 155.2 L141.6 153.9 L142.3 152.4 L143.7 151.8 L144.6 150.6 L146.4 151.8 L145.8 150.2 L144.6 148.9 L144.0 147.5 L143.8 146.0 L143.8 144.6 L144.0 143.1 L144.7 142.1 L145.8 141.4 L146.9 141.0 L148.1 141.1 L149.2 141.9 L149.8 143.1 L151.5 144.0 L153.0 144.3 L154.4 144.9 L155.9 144.1 L157.3 143.1 L158.5 141.6 L160.2 140.8 L161.7 139.9 L163.1 138.8 L163.7 137.8 L164.5 137.1 L164.0 135.3 L161.9 134.8 L160.6 135.6 L159.0 136.2 L157.6 136.2 L156.2 136.8 L154.7 136.7 L153.3 136.5 L151.8 136.5 L150.4 136.2 L148.9 136.1 L147.5 135.9 L146.1 135.3 L144.6 135.0 L142.9 133.9 L142.2 132.8 L142.3 131.6 L143.5 129.9 L144.8 129.6 L145.8 128.7 L147.5 129.9 L148.7 130.4 L149.2 131.6 L150.4 131.5 L151.5 131.0 L152.7 129.3 L153.1 127.9 L153.0 126.4 L154.3 127.0 L155.0 128.1 L155.7 129.4 L156.7 130.4 L157.7 131.2 L158.5 132.2 L158.0 130.7 L157.3 129.3 L157.9 128.1 L159.0 127.5 L159.6 126.4 L160.8 125.8 L160.2 124.4 L160.2 122.9 L161.1 121.9 L161.4 120.6 L162.4 120.1 L163.7 120.0 L165.0 121.4 L166.5 122.4 L166.3 121.0 L165.4 120.0 L166.5 119.4 L167.1 118.3 L165.4 117.2 L166.2 115.9 L167.1 114.9 L167.9 113.6 L168.9 112.5 L169.7 111.4 L170.6 110.2 L171.5 109.2 L172.0 107.9 L171.1 107.3 L170.6 106.2 L169.9 105.2 L168.9 104.5 L169.4 103.4 L169.4 102.2 L170.6 100.9 L171.2 99.3 L172.1 98.1 L173.5 97.5 L174.7 99.0 L176.4 99.8 L177.4 99.2 L178.7 99.3 L178.1 97.5 L179.2 96.8 L180.4 96.4 L181.8 96.6 L183.3 96.7 L184.9 96.4 L186.2 95.5 L185.5 94.0 L185.0 92.3 L183.3 91.2 L181.2 91.3 L179.2 92.1 L177.5 92.6 L175.8 93.2 L175.6 94.4 L175.2 95.5 L173.5 96.4 L172.2 95.0 L171.2 93.5 L170.0 91.8 L168.8 91.6 L167.7 90.9 L167.1 90.0 M121.8 124.7 L119.8 128.7 M114.9 133.3 L117.5 133.9 L120.1 132.2 M180.6 355.4 L183.2 356.0 L184.0 357.2 M293.2 196.8 L295.0 196.5 L296.8 196.3 L297.2 198.3 L297.3 200.4 L296.9 202.5 L296.6 204.5 L296.4 206.3 L295.8 208.1 L296.0 210.0 M292.9 198.3 L291.9 203.5 L290.6 208.6 M379.3 361.9 L382.3 360.3 L385.4 363.4 L381.3 364.5Z M479.1 382.2 L480.6 383.0 L481.9 384.2 L483.2 385.3 L484.4 384.5 L485.8 384.3 L485.0 385.6 L484.5 387.0 L484.2 388.4 L482.8 387.5 L481.6 386.4 M410.0 369.4 L411.7 369.9 L413.1 370.9 L415.1 371.6 L416.7 373.0 L416.1 374.6 L415.2 376.1 L414.4 377.1 L413.1 377.6 L412.3 376.4 L411.6 375.0 L411.9 373.5 L412.1 371.9 L410.9 370.8Z M998.8 204.9 L998.8 209.3 M1611.4 131.7 L1612.3 133.1 L1613.7 134.0 L1614.5 135.3 L1615.4 136.7 L1616.0 138.1 L1617.1 139.7 L1618.3 141.3 L1616.8 141.4 L1615.4 141.8 L1613.8 140.3 L1611.9 139.2 L1611.0 137.8 L1609.9 136.4 L1610.2 134.8 L1610.8 133.2Z" fill="none" stroke="#000" stroke-width="1.5" stroke-linejoin="round" stroke-linecap="round"/>
<path d="M126.7 94.7 L128.0 93.5 L129.6 92.9 L130.9 93.1 L131.9 93.8 L132.4 94.9 L133.1 95.8 L134.4 96.5 L136.0 96.4 L137.7 95.9 L136.8 97.8 L136.0 98.8 L134.8 99.3 L133.7 100.4 L131.9 99.3 L132.0 100.5 L131.4 101.6 L131.9 103.3 L130.8 104.1 L130.2 105.3 L129.3 104.2 L129.9 102.2 L127.9 101.6 L126.6 99.8 L127.1 98.7 L127.6 97.5 L127.1 96.1Z M291.2 200.0 L290.9 201.7 L290.8 203.5 L290.1 205.2 L290.2 207.2 L290.6 209.3 L292.2 209.2 L293.7 209.8 L295.1 208.6 L296.3 207.2 L296.8 205.2 L297.3 203.1 L297.4 201.5 L296.8 200.0 M310.7 327.4 L313.3 326.3 L312.3 330.5 L314.3 332.0 M311.8 359.3 L312.4 360.5 L313.3 361.4 L313.0 362.9 L312.2 364.2 L311.2 365.5 L312.3 366.8 L313.8 367.6 L312.9 369.3 L312.3 371.2 L314.1 372.2 M309.2 375.8 L311.2 374.8 L311.8 378.9 L309.7 378.4Z M200.7 574.0 L200.9 581.2 L198.6 585.3 M490.9 364.2 L493.5 365.8 M416.2 448.2 L419.3 446.1 L422.4 446.6 M1027.9 101.8 L1030.3 103.9 L1032.7 101.8 M1580.2 91.9 L1581.8 91.1 L1583.7 90.8 L1585.6 90.4 L1587.5 90.5 L1589.4 90.8 L1588.8 92.2 L1588.3 93.7 L1589.4 94.6 L1590.0 96.0 L1589.2 97.3 L1588.9 98.8 L1588.5 100.4 L1588.2 101.9 L1588.3 103.5 L1586.9 102.7 L1585.4 102.3 L1584.0 101.3 L1582.5 100.6 L1583.9 100.0 L1584.8 98.8 L1585.5 97.2 L1585.4 95.4 L1585.2 93.9 L1584.8 92.5 L1583.3 91.9 L1581.7 92.4Z M1620.9 144.4 L1621.2 153.1" fill="none" stroke="#000" stroke-width="1.6" stroke-linejoin="round" stroke-linecap="round"/>
<path d="M123.6 90.6 L122.4 92.3 L123.8 93.8 L125.6 94.7 M118.7 111.4 L120.1 112.0" fill="none" stroke="#000" stroke-width="1.63" stroke-linejoin="round" stroke-linecap="round"/>
<path d="M128.5 99.0 L130.5 100.4 M160.5 91.5 L161.6 92.9 M143.8 149.5 L145.8 151.5 M153.3 127.0 L154.4 129.3 M163.7 118.3 L166.8 118.3 M159.0 123.5 L161.1 125.8 L159.6 127.5 M168.6 111.4 L170.0 110.5" fill="none" stroke="#000" stroke-width="1.77" stroke-linejoin="round" stroke-linecap="round"/>
<path d="M196.1 185.8 L198.1 184.1 M187.8 189.9 L189.9 188.2 M192.5 192.4 L195.6 192.0 M316.9 131.9 L318.8 132.4 L320.5 133.4 L321.5 131.8 L322.6 130.3 L323.9 131.4 L324.6 132.9 L326.0 131.6 L327.7 130.9 M339.6 114.9 L342.2 112.8 L345.8 108.2 L347.8 107.2 M294.5 452.2 L297.0 450.6 L298.1 453.7 L295.5 455.2 M182.7 546.2 L183.2 550.3 M186.3 553.4 L187.2 554.2 L188.3 554.4 L189.2 556.3 L190.2 558.0 L190.8 559.9 L192.0 561.6 L191.3 563.7 L190.6 565.8 L191.0 567.2 L192.0 568.3 M200.2 591.5 L200.9 595.6 L199.9 597.2 M197.8 625.5 L197.1 633.3 M198.6 628.6 L201.7 629.4 M181.6 647.7 L186.3 646.1 L192.5 645.1 L189.4 647.7 M512.0 370.9 L515.6 373.5 M454.3 430.7 L459.5 432.7 L451.8 436.9 M376.5 569.2 L378.6 570.9 L377.1 573.5" fill="none" stroke="#000" stroke-width="1.8" stroke-linejoin="round" stroke-linecap="round"/>
<path d="M136.3 91.1 L138.9 91.7 L141.4 91.2 M168.0 91.1 L170.6 91.7 M166.8 99.0 L170.0 99.6 L172.0 97.8" fill="none" stroke="#000" stroke-width="1.9" stroke-linejoin="round" stroke-linecap="round"/>
<path d="M210.5 407.7 L211.2 409.3 L209.5 413.9 L208.7 418.0 M170.3 460.5 L171.1 461.6 L172.4 462.1 L173.8 462.8 L175.4 462.9 L177.0 463.1 L178.9 463.6 L180.3 465.1 L182.2 465.7 L183.6 466.2 L184.9 467.2 L186.3 467.8 L186.6 469.5 L187.5 470.9 L188.3 472.4 L189.3 474.0 L189.9 475.8 L190.4 477.6 L190.8 479.2 L192.0 480.5 L192.5 482.2 L193.8 483.3 L195.3 484.2 L196.6 485.3 L197.8 486.3 L198.6 487.7 L199.7 488.9 L201.3 490.1 L202.3 491.8 M316.4 139.1 L318.0 138.9 L319.5 138.6 L320.7 137.4 L321.6 136.0 L323.2 135.5 L324.6 134.5 L325.5 133.4 L326.7 132.9 M282.6 261.8 L284.5 260.8 L285.7 262.9 M313.8 419.6 L316.4 421.1 L314.9 424.2 M186.3 535.1 L184.2 533.0 L181.6 530.5 M520.3 462.2 L515.6 472.0 M382.0 633.9 L382.8 638.0 M377.2 570.5 L378.5 572.1 M436.8 297.1 L442.4 297.1 M813.8 532.5 L817.0 531.2 M1598.7 111.5 L1599.2 113.4 L1600.0 115.1 L1601.0 116.7 L1602.1 118.6 L1603.2 120.4 L1603.9 122.5 L1604.6 123.8 L1605.5 125.1 L1606.2 126.5 L1605.8 128.6 L1605.9 130.6" fill="none" stroke="#000" stroke-width="2.0" stroke-linejoin="round" stroke-linecap="round"/>
<path d="M129.0 95.5 L131.4 97.0 L134.2 97.8 M118.7 148.3 L120.1 150.3 M122.4 148.0 L123.6 149.5 M129.0 139.4 L130.4 140.1 L131.9 140.5 L133.2 140.3 L134.2 139.7 L136.0 140.8 L135.7 142.4 L134.8 143.7 M137.1 142.8 L140.0 143.7 L141.4 145.4 M143.2 133.9 L144.4 134.6 L145.8 134.8 L147.5 135.3 L149.2 135.0 L151.0 134.7 L152.7 134.5 L154.1 133.6 L155.6 132.7 M160.8 120.6 L163.1 120.0 L165.4 120.6 L166.8 122.4" fill="none" stroke="#000" stroke-width="2.04" stroke-linejoin="round" stroke-linecap="round"/>
<path d="M117.5 136.2 L118.8 136.9 L119.8 137.9 L119.2 139.1 L118.7 140.2 L120.2 140.2 L121.5 139.7 L122.7 138.8 L123.8 137.9 L124.8 138.8 L125.6 139.7 L125.3 141.0 L124.4 142.0 L123.1 142.1 L122.1 142.8 L121.0 142.4 L120.4 141.4 L119.8 142.6 L119.2 143.7 L120.3 144.5 L121.5 144.9 L122.9 144.3 L124.4 144.3 L126.2 145.4 L124.9 146.1 L123.8 147.2 L122.6 147.1 L121.5 147.7 L119.8 146.6 M141.2 147.2 L142.9 150.1 L141.2 152.4 M143.2 130.7 L145.2 129.9 L146.9 129.3 L147.6 130.4 L148.1 131.6 L149.3 131.6 L150.4 132.2 L151.7 131.5 L152.7 130.4 L153.1 129.2 L153.9 128.1 L154.8 129.3 L155.6 130.4 L156.2 131.6 L157.3 132.2" fill="none" stroke="#000" stroke-width="2.18" stroke-linejoin="round" stroke-linecap="round"/>
<path d="M240.4 106.6 L244.0 109.5 L246.6 107.2 L250.2 106.6 M217.7 126.2 L218.4 129.3 L217.7 132.9 M286.0 285.5 L287.0 285.0 L288.1 284.5 L288.7 286.0 L289.1 287.6 L289.7 288.8 L290.6 289.6 L290.8 291.3 L290.1 292.7 M121.7 713.8 L124.0 719.0 M1013.2 248.8 L1014.3 252.5" fill="none" stroke="#000" stroke-width="2.2" stroke-linejoin="round" stroke-linecap="round"/>
<path d="M303.0 315.8 L307.1 316.9 L310.0 320.7 M473.9 399.8 L475.5 403.9 L476.5 408.0 M488.9 476.6 L486.8 483.9" fill="none" stroke="#000" stroke-width="2.4" stroke-linejoin="round" stroke-linecap="round"/>
<path d="M644.9 181.8 L647.1 184.2 L650.1 183.7" fill="none" stroke="#000" stroke-width="2.6" stroke-linejoin="round" stroke-linecap="round"/>
<g fill="#000"><circle cx="136.0" cy="93.8" r="1.0"/><circle cx="139.7" cy="96.4" r="1.0"/><circle cx="149.2" cy="90.4" r="1.0"/><circle cx="167.7" cy="99.4" r="1.9"/><circle cx="123.6" cy="121.9" r="1.0"/><circle cx="127.0" cy="120.9" r="1.3"/><circle cx="137.0" cy="121.0" r="1.4"/><circle cx="151.8" cy="137.9" r="1.2"/><circle cx="155.9" cy="138.2" r="1.1"/><circle cx="148.5" cy="139.7" r="0.9"/><circle cx="154.7" cy="144.6" r="1.6"/><circle cx="83.8" cy="90.7" r="1.3"/><circle cx="94.6" cy="121.1" r="1.3"/><circle cx="96.1" cy="125.7" r="1.3"/><circle cx="98.9" cy="125.4" r="1.3"/><circle cx="96.6" cy="129.8" r="1.3"/><circle cx="96.1" cy="133.9" r="1.3"/><circle cx="100.2" cy="133.2" r="1.3"/><circle cx="101.0" cy="136.0" r="1.3"/><circle cx="87.4" cy="135.5" r="1.3"/><circle cx="86.3" cy="141.2" r="1.3"/><circle cx="82.4" cy="142.7" r="1.3"/><circle cx="213.6" cy="96.8" r="1.2"/><circle cx="217.2" cy="98.4" r="1.0"/><circle cx="219.3" cy="106.1" r="2.0"/><circle cx="207.9" cy="153.0" r="1.0"/><circle cx="201.5" cy="159.0" r="0.9"/><circle cx="179.6" cy="175.7" r="1.0"/><circle cx="209.0" cy="174.6" r="1.2"/><circle cx="249.1" cy="161.8" r="0.9"/><circle cx="239.9" cy="175.7" r="1.1"/><circle cx="205.3" cy="183.4" r="1.1"/><circle cx="184.2" cy="194.2" r="1.1"/><circle cx="81.7" cy="277.1" r="1.0"/><circle cx="88.4" cy="343.1" r="1.1"/><circle cx="92.0" cy="342.8" r="1.0"/><circle cx="192.3" cy="457.1" r="1.2"/><circle cx="147.1" cy="518.3" r="2.4"/><circle cx="101.3" cy="543.3" r="1.6"/><circle cx="305.1" cy="155.3" r="1.0"/><circle cx="299.7" cy="162.5" r="1.1"/><circle cx="296.3" cy="169.0" r="1.1"/><circle cx="291.5" cy="178.6" r="1.2"/><circle cx="249.4" cy="161.8" r="1.0"/><circle cx="239.6" cy="175.9" r="1.1"/><circle cx="288.9" cy="277.0" r="1.1"/><circle cx="290.1" cy="296.9" r="1.3"/><circle cx="286.3" cy="253.6" r="0.9"/><circle cx="277.0" cy="208.2" r="0.8"/><circle cx="299.4" cy="313.3" r="1.3"/><circle cx="313.8" cy="340.8" r="1.0"/><circle cx="311.5" cy="341.3" r="0.9"/><circle cx="310.2" cy="389.2" r="1.0"/><circle cx="311.8" cy="404.1" r="1.1"/><circle cx="312.3" cy="426.8" r="1.6"/><circle cx="282.6" cy="463.2" r="1.2"/><circle cx="279.0" cy="468.1" r="1.2"/><circle cx="257.9" cy="474.5" r="1.1"/><circle cx="270.3" cy="469.7" r="0.9"/><circle cx="231.1" cy="489.8" r="1.2"/><circle cx="229.2" cy="497.0" r="1.2"/><circle cx="218.7" cy="511.4" r="1.2"/><circle cx="221.8" cy="504.7" r="0.9"/><circle cx="274.9" cy="474.3" r="0.8"/><circle cx="192.1" cy="457.0" r="1.1"/><circle cx="189.6" cy="642.0" r="1.0"/><circle cx="172.4" cy="651.3" r="1.6"/><circle cx="143.0" cy="658.0" r="1.6"/><circle cx="101.6" cy="543.4" r="1.6"/><circle cx="143.3" cy="657.7" r="1.3"/><circle cx="134.1" cy="731.6" r="2.0"/><circle cx="138.8" cy="714.8" r="1.3"/><circle cx="139.1" cy="677.5" r="1.2"/><circle cx="172.2" cy="651.5" r="1.3"/><circle cx="125.5" cy="750.9" r="1.0"/><circle cx="144.4" cy="682.3" r="1.3"/><circle cx="487.8" cy="376.1" r="0.9"/><circle cx="490.4" cy="371.9" r="0.9"/><circle cx="492.5" cy="376.6" r="0.9"/><circle cx="502.8" cy="358.5" r="2.6"/><circle cx="467.2" cy="412.1" r="1.0"/><circle cx="440.4" cy="444.1" r="2.1"/><circle cx="428.1" cy="449.2" r="1.5"/><circle cx="460.3" cy="345.2" r="0.9"/><circle cx="386.5" cy="505.5" r="0.9"/><circle cx="449.9" cy="517.1" r="1.6"/><circle cx="420.0" cy="573.3" r="1.4"/><circle cx="380.8" cy="584.2" r="2.0"/><circle cx="383.0" cy="590.8" r="1.2"/><circle cx="419.9" cy="573.4" r="1.3"/><circle cx="370.5" cy="588.3" r="1.6"/><circle cx="396.2" cy="663.3" r="1.6"/><circle cx="461.6" cy="640.1" r="1.2"/><circle cx="456.5" cy="656.0" r="1.3"/><circle cx="442.9" cy="304.3" r="0.9"/><circle cx="470.0" cy="311.5" r="0.9"/><circle cx="535.9" cy="294.8" r="0.9"/><circle cx="542.9" cy="293.0" r="0.9"/><circle cx="541.8" cy="299.9" r="0.9"/><circle cx="545.9" cy="313.9" r="0.9"/><circle cx="593.4" cy="208.8" r="0.9"/><circle cx="592.9" cy="216.0" r="0.9"/><circle cx="600.9" cy="214.4" r="0.9"/><circle cx="587.8" cy="226.3" r="0.9"/><circle cx="579.8" cy="243.6" r="0.9"/><circle cx="658.1" cy="246.3" r="0.9"/><circle cx="635.0" cy="186.7" r="1.0"/><circle cx="638.2" cy="191.5" r="1.0"/><circle cx="650.6" cy="189.9" r="1.0"/><circle cx="691.4" cy="534.8" r="0.8"/><circle cx="619.5" cy="443.2" r="0.8"/><circle cx="729.0" cy="464.9" r="0.9"/><circle cx="1034.8" cy="94.9" r="0.9"/><circle cx="1003.5" cy="206.5" r="0.8"/><circle cx="1011.1" cy="214.5" r="0.8"/><circle cx="989.6" cy="227.2" r="0.8"/><circle cx="993.9" cy="226.6" r="0.8"/><circle cx="988.0" cy="230.9" r="0.8"/><circle cx="645.3" cy="172.7" r="0.9"/><circle cx="1551.6" cy="358.4" r="1.7"/><circle cx="1546.0" cy="351.0" r="0.6"/><circle cx="1126.7" cy="990.7" r="1.8"/><circle cx="1126.0" cy="1014.9" r="1.3"/><circle cx="359.6" cy="470.1" r="0.9"/><circle cx="307.7" cy="593.5" r="1.3"/><circle cx="275.0" cy="474.1" r="0.8"/><circle cx="333.3" cy="127.8" r="0.94"/><circle cx="325.9" cy="134.0" r="0.81"/><circle cx="300.2" cy="163.2" r="0.90"/><circle cx="296.6" cy="170.7" r="0.71"/><circle cx="276.1" cy="230.3" r="1.06"/><circle cx="314.1" cy="395.1" r="1.04"/><circle cx="319.4" cy="418.4" r="1.03"/><circle cx="318.5" cy="420.1" r="0.75"/><circle cx="277.8" cy="468.2" r="0.74"/><circle cx="276.7" cy="468.9" r="1.03"/><circle cx="267.3" cy="471.8" r="1.00"/><circle cx="221.3" cy="505.7" r="0.88"/><circle cx="195.7" cy="575.0" r="0.80"/><circle cx="200.8" cy="601.5" r="1.09"/><circle cx="201.5" cy="629.5" r="1.04"/><circle cx="197.3" cy="642.0" r="0.75"/><circle cx="140.6" cy="712.3" r="0.81"/><circle cx="135.8" cy="732.3" r="0.83"/><circle cx="114.1" cy="761.2" r="0.70"/><circle cx="105.9" cy="770.8" r="1.06"/></g>
</g>
<line x1="300.0" y1="1052.5" x2="300.0" y2="89.5" stroke="#000" stroke-width="1.39" stroke-dasharray="1.39 1.39" fill="none"/>
<line x1="740.4" y1="1052.5" x2="740.4" y2="89.5" stroke="#000" stroke-width="1.39" stroke-dasharray="1.39 1.39" fill="none"/>
<line x1="1181.0" y1="1052.5" x2="1181.0" y2="89.5" stroke="#000" stroke-width="1.39" stroke-dasharray="1.39 1.39" fill="none"/>
<line x1="1620.8" y1="1052.5" x2="1620.8" y2="89.5" stroke="#000" stroke-width="1.39" stroke-dasharray="1.39 1.39" fill="none"/>
<line x1="80.5" y1="310.25" x2="1621.5" y2="310.25" stroke="#000" stroke-width="1.39" stroke-dasharray="1.39 1.39" fill="none"/>
<line x1="80.5" y1="538.5" x2="1621.5" y2="538.5" stroke="#000" stroke-width="1.39" stroke-dasharray="1.39 1.39" fill="none"/>
<line x1="80.5" y1="782.0" x2="1621.5" y2="782.0" stroke="#000" stroke-width="1.39" stroke-dasharray="1.39 1.39" fill="none"/>
<line x1="80.5" y1="1051.5" x2="1621.5" y2="1051.5" stroke="#000" stroke-width="1.39" stroke-dasharray="1.39 1.39" fill="none"/>
<polygon points="80.8,1046.8 81.8,1046.2 86.6,1046.2 87.2,1047 87.1,1048.7 85.6,1049.4 86.4,1051 87,1052.2 80.8,1052.2" fill="#000"/>
<rect x="80.5" y="89.5" width="1541.0" height="963.0" fill="none" stroke="#000" stroke-width="1.2"/>
<rect x="1274.5" y="874.5" width="339.0" height="169.0" rx="2.8" ry="2.8" fill="#fff" fill-opacity="0.8" stroke="#000" stroke-width="1.1"/>
<line x1="1280.3" y1="887.5" x2="1315.2" y2="887.5" stroke="#696969" stroke-width="1.3"/>
<line x1="1280.3" y1="910.5" x2="1315.2" y2="910.5" stroke="#ff4500" stroke-width="1.3"/>
<line x1="1280.3" y1="933.5" x2="1315.2" y2="933.5" stroke="#808000" stroke-width="1.3"/>
<line x1="1280.3" y1="957.5" x2="1315.2" y2="957.5" stroke="#008000" stroke-width="1.3"/>
<line x1="1279" y1="979.8" x2="1316" y2="979.8" stroke="#800080" stroke-width="4.17"/>
<line x1="1279" y1="1002.8" x2="1316" y2="1002.8" stroke="#000" stroke-width="4.17"/>
<path d="M1294.77 1025.95 A4.45 4.45 0 1 0 1301.83 1027.32" fill="none" stroke="#000" stroke-width="2.5"/>
<polygon points="1298.15,1023.3 1304.1,1023.3 1304.1,1025.6 1302.6,1026.2 1300.5,1029.6 1298.15,1029.3" fill="#000"/>
<rect x="1665.5" y="189.50" width="20.0" height="750.00" fill="#08306b"/>
<rect x="1665.5" y="217.35" width="20.0" height="722.15" fill="#083979"/>
<rect x="1665.5" y="246.19" width="20.0" height="693.31" fill="#084387"/>
<rect x="1665.5" y="275.04" width="20.0" height="664.46" fill="#084c95"/>
<rect x="1665.5" y="303.88" width="20.0" height="635.62" fill="#0b559f"/>
<rect x="1665.5" y="332.73" width="20.0" height="606.77" fill="#135fa7"/>
<rect x="1665.5" y="361.58" width="20.0" height="577.92" fill="#1a68ae"/>
<rect x="1665.5" y="390.42" width="20.0" height="549.08" fill="#2171b5"/>
<rect x="1665.5" y="419.27" width="20.0" height="520.23" fill="#2b7bba"/>
<rect x="1665.5" y="448.12" width="20.0" height="491.38" fill="#3484bf"/>
<rect x="1665.5" y="476.96" width="20.0" height="462.54" fill="#3e8ec4"/>
<rect x="1665.5" y="505.81" width="20.0" height="433.69" fill="#4997c9"/>
<rect x="1665.5" y="534.65" width="20.0" height="404.85" fill="#549fcd"/>
<rect x="1665.5" y="563.50" width="20.0" height="376.00" fill="#60a7d2"/>
<rect x="1665.5" y="592.35" width="20.0" height="347.15" fill="#6dafd7"/>
<rect x="1665.5" y="621.19" width="20.0" height="318.31" fill="#7cb7da"/>
<rect x="1665.5" y="650.04" width="20.0" height="289.46" fill="#8abfdd"/>
<rect x="1665.5" y="678.88" width="20.0" height="260.62" fill="#99c7e0"/>
<rect x="1665.5" y="707.73" width="20.0" height="231.77" fill="#a5cde3"/>
<rect x="1665.5" y="736.58" width="20.0" height="202.92" fill="#b2d2e8"/>
<rect x="1665.5" y="765.42" width="20.0" height="174.08" fill="#bdd7ec"/>
<rect x="1665.5" y="794.27" width="20.0" height="145.23" fill="#c7dcef"/>
<rect x="1665.5" y="823.12" width="20.0" height="116.38" fill="#cee0f2"/>
<rect x="1665.5" y="851.96" width="20.0" height="87.54" fill="#d5e5f4"/>
<rect x="1665.5" y="880.81" width="20.0" height="58.69" fill="#dceaf6"/>
<rect x="1665.5" y="909.65" width="20.0" height="29.85" fill="#e3eef9"/>
<rect x="1665.5" y="189.5" width="20.0" height="750.0" fill="none" stroke="#000" stroke-width="1.1"/>
<line x1="1685.5" y1="939.5" x2="1690.7" y2="939.5" stroke="#000" stroke-width="1.1"/>
<line x1="1685.5" y1="795.5" x2="1690.7" y2="795.5" stroke="#000" stroke-width="1.1"/>
<line x1="1685.5" y1="651.5" x2="1690.7" y2="651.5" stroke="#000" stroke-width="1.1"/>
<line x1="1685.5" y1="506.5" x2="1690.7" y2="506.5" stroke="#000" stroke-width="1.1"/>
<line x1="1685.5" y1="362.5" x2="1690.7" y2="362.5" stroke="#000" stroke-width="1.1"/>
<line x1="1685.5" y1="218.5" x2="1690.7" y2="218.5" stroke="#000" stroke-width="1.1"/>
<rect x="25.5" y="1137.5" width="1640.0" height="41.0" fill="#9e0142" stroke="#000" stroke-width="1.1"/>
<line x1="25.5" y1="1178.5" x2="25.5" y2="1183.7" stroke="#000" stroke-width="1.1"/>
<line x1="66.5" y1="1178.5" x2="66.5" y2="1183.7" stroke="#000" stroke-width="1.1"/>
<line x1="107.5" y1="1178.5" x2="107.5" y2="1183.7" stroke="#000" stroke-width="1.1"/>
<line x1="148.5" y1="1178.5" x2="148.5" y2="1183.7" stroke="#000" stroke-width="1.1"/>
<line x1="189.5" y1="1178.5" x2="189.5" y2="1183.7" stroke="#000" stroke-width="1.1"/>
<line x1="230.5" y1="1178.5" x2="230.5" y2="1183.7" stroke="#000" stroke-width="1.1"/>
<line x1="271.5" y1="1178.5" x2="271.5" y2="1183.7" stroke="#000" stroke-width="1.1"/>
<line x1="312.5" y1="1178.5" x2="312.5" y2="1183.7" stroke="#000" stroke-width="1.1"/>
<line x1="353.5" y1="1178.5" x2="353.5" y2="1183.7" stroke="#000" stroke-width="1.1"/>
<line x1="394.5" y1="1178.5" x2="394.5" y2="1183.7" stroke="#000" stroke-width="1.1"/>
<line x1="435.5" y1="1178.5" x2="435.5" y2="1183.7" stroke="#000" stroke-width="1.1"/>
<line x1="476.5" y1="1178.5" x2="476.5" y2="1183.7" stroke="#000" stroke-width="1.1"/>
<line x1="517.5" y1="1178.5" x2="517.5" y2="1183.7" stroke="#000" stroke-width="1.1"/>
<line x1="558.5" y1="1178.5" x2="558.5" y2="1183.7" stroke="#000" stroke-width="1.1"/>
<line x1="599.5" y1="1178.5" x2="599.5" y2="1183.7" stroke="#000" stroke-width="1.1"/>
<line x1="640.5" y1="1178.5" x2="640.5" y2="1183.7" stroke="#000" stroke-width="1.1"/>
<line x1="681.5" y1="1178.5" x2="681.5" y2="1183.7" stroke="#000" stroke-width="1.1"/>
<line x1="722.5" y1="1178.5" x2="722.5" y2="1183.7" stroke="#000" stroke-width="1.1"/>
<line x1="763.5" y1="1178.5" x2="763.5" y2="1183.7" stroke="#000" stroke-width="1.1"/>
<line x1="804.5" y1="1178.5" x2="804.5" y2="1183.7" stroke="#000" stroke-width="1.1"/>
<line x1="845.5" y1="1178.5" x2="845.5" y2="1183.7" stroke="#000" stroke-width="1.1"/>
<line x1="886.5" y1="1178.5" x2="886.5" y2="1183.7" stroke="#000" stroke-width="1.1"/>
<line x1="927.5" y1="1178.5" x2="927.5" y2="1183.7" stroke="#000" stroke-width="1.1"/>
<line x1="968.5" y1="1178.5" x2="968.5" y2="1183.7" stroke="#000" stroke-width="1.1"/>
<line x1="1009.5" y1="1178.5" x2="1009.5" y2="1183.7" stroke="#000" stroke-width="1.1"/>
<line x1="1050.5" y1="1178.5" x2="1050.5" y2="1183.7" stroke="#000" stroke-width="1.1"/>
<line x1="1091.5" y1="1178.5" x2="1091.5" y2="1183.7" stroke="#000" stroke-width="1.1"/>
<line x1="1132.5" y1="1178.5" x2="1132.5" y2="1183.7" stroke="#000" stroke-width="1.1"/>
<line x1="1173.5" y1="1178.5" x2="1173.5" y2="1183.7" stroke="#000" stroke-width="1.1"/>
<line x1="1214.5" y1="1178.5" x2="1214.5" y2="1183.7" stroke="#000" stroke-width="1.1"/>
<line x1="1255.5" y1="1178.5" x2="1255.5" y2="1183.7" stroke="#000" stroke-width="1.1"/>
<line x1="1296.5" y1="1178.5" x2="1296.5" y2="1183.7" stroke="#000" stroke-width="1.1"/>
<line x1="1337.5" y1="1178.5" x2="1337.5" y2="1183.7" stroke="#000" stroke-width="1.1"/>
<line x1="1378.5" y1="1178.5" x2="1378.5" y2="1183.7" stroke="#000" stroke-width="1.1"/>
<line x1="1419.5" y1="1178.5" x2="1419.5" y2="1183.7" stroke="#000" stroke-width="1.1"/>
<line x1="1460.5" y1="1178.5" x2="1460.5" y2="1183.7" stroke="#000" stroke-width="1.1"/>
<line x1="1501.5" y1="1178.5" x2="1501.5" y2="1183.7" stroke="#000" stroke-width="1.1"/>
<line x1="1542.5" y1="1178.5" x2="1542.5" y2="1183.7" stroke="#000" stroke-width="1.1"/>
<line x1="1583.5" y1="1178.5" x2="1583.5" y2="1183.7" stroke="#000" stroke-width="1.1"/>
<line x1="1624.5" y1="1178.5" x2="1624.5" y2="1183.7" stroke="#000" stroke-width="1.1"/>
<line x1="1665.5" y1="1178.5" x2="1665.5" y2="1183.7" stroke="#000" stroke-width="1.1"/>
<line x1="20.3" y1="1158.5" x2="25.5" y2="1158.5" stroke="#000" stroke-width="1.1"/>
<g opacity="0.999"><text id="tl0_w0" font-size="17.3" font-weight="bold" stroke="#000" stroke-width="0.35" textLength="89.94" lengthAdjust="spacingAndGlyphs" x="80.00" y="22.00">Maximum</text>
<text id="tl0_w1" font-size="17.3" font-weight="bold" stroke="#000" stroke-width="0.35" textLength="77.34" lengthAdjust="spacingAndGlyphs" x="176.00" y="22.00">forecast</text>
<text id="tl0_w2" font-size="17.3" font-weight="bold" stroke="#000" stroke-width="0.35" textLength="92.72" lengthAdjust="spacingAndGlyphs" x="259.00" y="22.00">trajectory</text>
<text id="tl0_w3" font-size="17.3" font-weight="bold" stroke="#000" stroke-width="0.35" textLength="79.34" lengthAdjust="spacingAndGlyphs" x="358.00" y="22.00">duration</text>
<text id="tl0_w4" font-size="17.3" font-weight="bold" stroke="#000" stroke-width="0.35" textLength="6.59" lengthAdjust="spacingAndGlyphs" x="443.59" y="22.00">:</text>
<text id="tl0_w5" font-size="17.3" font-weight="bold" stroke="#000" stroke-width="0.35" textLength="22.44" lengthAdjust="spacingAndGlyphs" x="456.00" y="22.00">10</text>
<text id="tl0_w6" font-size="17.3" font-weight="bold" stroke="#000" stroke-width="0.35" textLength="42.42" lengthAdjust="spacingAndGlyphs" x="485.00" y="22.00">days</text>
<text id="tl1_w0" font-size="17.3" font-weight="bold" stroke="#000" stroke-width="0.35" textLength="87.18" lengthAdjust="spacingAndGlyphs" x="80.00" y="41.00">Intercept</text>
<text id="tl1_w1" font-size="17.3" font-weight="bold" stroke="#000" stroke-width="0.35" textLength="84.98" lengthAdjust="spacingAndGlyphs" x="173.00" y="41.00">distance:</text>
<text id="tl1_w2" font-size="17.3" font-weight="bold" stroke="#000" stroke-width="0.35" textLength="61.94" lengthAdjust="spacingAndGlyphs" x="265.00" y="41.00">300km</text>
<text id="tl2_w0" font-size="17.3" font-weight="bold" stroke="#000" stroke-width="0.35" textLength="87.18" lengthAdjust="spacingAndGlyphs" x="80.00" y="61.00">Intercept</text>
<text id="tl2_w1" font-size="17.3" font-weight="bold" stroke="#000" stroke-width="0.35" textLength="41.18" lengthAdjust="spacingAndGlyphs" x="173.00" y="61.00">RW2</text>
<text id="tl2_w2" font-size="17.3" font-weight="bold" stroke="#000" stroke-width="0.35" textLength="55.99" lengthAdjust="spacingAndGlyphs" x="221.00" y="61.00">(EPS):</text>
<text id="tl2_w3" font-size="17.3" font-weight="bold" stroke="#000" stroke-width="0.35" textLength="79.20" lengthAdjust="spacingAndGlyphs" x="290.00" y="61.00">30km/h2</text>
<text id="tl3_w0" font-size="17.3" font-weight="bold" stroke="#000" stroke-width="0.35" textLength="87.18" lengthAdjust="spacingAndGlyphs" x="80.00" y="80.00">Intercept</text>
<text id="tl3_w1" font-size="17.3" font-weight="bold" stroke="#000" stroke-width="0.35" textLength="41.18" lengthAdjust="spacingAndGlyphs" x="173.00" y="80.00">RW2</text>
<text id="tl3_w2" font-size="17.3" font-weight="bold" stroke="#000" stroke-width="0.35" textLength="71.50" lengthAdjust="spacingAndGlyphs" x="221.00" y="80.00">(HRES):</text>
<text id="tl3_w3" font-size="17.3" font-weight="bold" stroke="#000" stroke-width="0.35" textLength="79.20" lengthAdjust="spacingAndGlyphs" x="299.00" y="80.00">30km/h2</text>
<text id="tr0_w0" font-size="17.3" font-weight="bold" stroke="#000" stroke-width="0.35" textLength="43.72" lengthAdjust="spacingAndGlyphs" x="1205.00" y="22.00">Site:</text>
<text id="tr0_w1" font-size="17.3" font-weight="bold" stroke="#000" stroke-width="0.35" textLength="50.35" lengthAdjust="spacingAndGlyphs" x="1255.00" y="22.00">Mahe</text>
<text id="tr1_w0" font-size="17.3" font-weight="bold" stroke="#000" stroke-width="0.35" textLength="81.18" lengthAdjust="spacingAndGlyphs" x="1205.00" y="41.00">Forecast</text>
<text id="tr1_w1" font-size="17.3" font-weight="bold" stroke="#000" stroke-width="0.35" textLength="49.58" lengthAdjust="spacingAndGlyphs" x="1291.00" y="41.00">date:</text>
<text id="tr1_w2" font-size="17.3" font-weight="bold" stroke="#000" stroke-width="0.35" textLength="30.12" lengthAdjust="spacingAndGlyphs" x="1346.00" y="41.00">Fri.</text>
<text id="tr1_w3" font-size="17.3" font-weight="bold" stroke="#000" stroke-width="0.35" textLength="57.25" lengthAdjust="spacingAndGlyphs" x="1384.00" y="41.00">26/09,</text>
<text id="tr1_w4" font-size="17.3" font-weight="bold" stroke="#000" stroke-width="0.35" textLength="33.89" lengthAdjust="spacingAndGlyphs" x="1448.00" y="41.00">00h</text>
<text id="tr1_w5" font-size="17.3" font-weight="bold" stroke="#000" stroke-width="0.35" textLength="51.14" lengthAdjust="spacingAndGlyphs" x="1488.00" y="41.00">(UTC)</text>
<text id="tr2_w0" font-size="17.3" font-weight="bold" stroke="#000" stroke-width="0.35" textLength="58.00" lengthAdjust="spacingAndGlyphs" x="1205.00" y="60.00">Speed</text>
<text id="tr2_w1" font-size="17.3" font-weight="bold" stroke="#000" stroke-width="0.35" textLength="84.03" lengthAdjust="spacingAndGlyphs" x="1269.00" y="60.00">function:</text>
<text id="tr2_w2" font-size="17.3" font-weight="bold" stroke="#000" stroke-width="0.35" textLength="201.64" lengthAdjust="spacingAndGlyphs" x="1359.00" y="60.00">U10_speed_Helikite_4</text>
<text id="tr3_w0" font-size="17.3" font-weight="bold" stroke="#000" stroke-width="0.35" textLength="113.04" lengthAdjust="spacingAndGlyphs" x="1205.00" y="80.00">Deployment</text>
<text id="tr3_w1" font-size="17.3" font-weight="bold" stroke="#000" stroke-width="0.35" textLength="49.58" lengthAdjust="spacingAndGlyphs" x="1324.00" y="80.00">date:</text>
<text id="tr3_w2" font-size="17.3" font-weight="bold" stroke="#000" stroke-width="0.35" textLength="30.12" lengthAdjust="spacingAndGlyphs" x="1379.00" y="80.00">Fri.</text>
<text id="tr3_w3" font-size="17.3" font-weight="bold" stroke="#000" stroke-width="0.35" textLength="58.27" lengthAdjust="spacingAndGlyphs" x="1416.00" y="80.00">26/09,</text>
<text id="tr3_w4" font-size="17.3" font-weight="bold" stroke="#000" stroke-width="0.35" textLength="35.10" lengthAdjust="spacingAndGlyphs" x="1480.00" y="80.00">14h</text>
<text id="tr3_w5" font-size="17.3" font-weight="bold" stroke="#000" stroke-width="0.35" textLength="50.10" lengthAdjust="spacingAndGlyphs" x="1521.00" y="80.00">(UTC)</text>
<text id="title_w0" font-size="43.3" font-weight="bold" stroke="#000" stroke-width="0.87" textLength="74.96" lengthAdjust="spacingAndGlyphs" x="631.00" y="62.00">Fri.</text>
<text id="title_w1" font-size="43.3" font-weight="bold" stroke="#000" stroke-width="0.87" textLength="144.06" lengthAdjust="spacingAndGlyphs" x="723.00" y="62.00">26/09,</text>
<text id="title_w2" font-size="43.3" font-weight="bold" stroke="#000" stroke-width="0.87" textLength="85.27" lengthAdjust="spacingAndGlyphs" x="884.00" y="62.00">18h</text>
<text id="title_w3" font-size="43.3" font-weight="bold" stroke="#000" stroke-width="0.87" textLength="82.72" lengthAdjust="spacingAndGlyphs" x="986.00" y="62.00">(LT)</text>
<text id="lon40" font-size="23.0" font-weight="bold" stroke="#000" stroke-width="0.46" textLength="50.12" lengthAdjust="spacingAndGlyphs" x="275.00" y="1083.00">40°E</text>
<text id="lon60" font-size="23.0" font-weight="bold" stroke="#000" stroke-width="0.46" textLength="51.15" lengthAdjust="spacingAndGlyphs" x="714.50" y="1083.00">60°E</text>
<text id="lon80" font-size="23.0" font-weight="bold" stroke="#000" stroke-width="0.46" textLength="50.15" lengthAdjust="spacingAndGlyphs" x="1155.00" y="1083.00">80°E</text>
<text id="lon100" font-size="23.0" font-weight="bold" stroke="#000" stroke-width="0.46" textLength="65.00" lengthAdjust="spacingAndGlyphs" x="1587.00" y="1083.00">100°E</text>
<text id="lat10" font-size="23.0" font-weight="bold" stroke="#000" stroke-width="0.46" textLength="51.15" lengthAdjust="spacingAndGlyphs" x="11.00" y="316.25">10°S</text>
<text id="lat20" font-size="23.0" font-weight="bold" stroke="#000" stroke-width="0.46" textLength="51.13" lengthAdjust="spacingAndGlyphs" x="12.00" y="544.50">20°S</text>
<text id="lat30" font-size="23.0" font-weight="bold" stroke="#000" stroke-width="0.46" textLength="51.13" lengthAdjust="spacingAndGlyphs" x="11.00" y="788.00">30°S</text>
<text id="cb0" font-size="14.7" textLength="8.17" lengthAdjust="spacingAndGlyphs" x="1695.00" y="945.00">0</text>
<text id="cb10" font-size="14.7" textLength="16.34" lengthAdjust="spacingAndGlyphs" x="1695.00" y="800.77">10</text>
<text id="cb20" font-size="14.7" textLength="17.43" lengthAdjust="spacingAndGlyphs" x="1694.00" y="656.54">20</text>
<text id="cb30" font-size="14.7" textLength="16.34" lengthAdjust="spacingAndGlyphs" x="1695.00" y="512.31">30</text>
<text id="cb40" font-size="14.7" textLength="16.34" lengthAdjust="spacingAndGlyphs" x="1695.00" y="368.08">40</text>
<text id="cb50" font-size="14.7" textLength="16.34" lengthAdjust="spacingAndGlyphs" x="1695.00" y="223.85">50</text>
<text id="cblabel_w0" font-size="20.4" font-weight="bold" stroke="#000" stroke-width="0.41" textLength="77.27" lengthAdjust="spacingAndGlyphs" transform="translate(1737.00 932.00) rotate(-90)" x="0" y="0">Named</text>
<text id="cblabel_w1" font-size="20.4" font-weight="bold" stroke="#000" stroke-width="0.41" textLength="94.30" lengthAdjust="spacingAndGlyphs" transform="translate(1737.00 848.00) rotate(-90)" x="0" y="0">cyclones</text>
<text id="cblabel_w2" font-size="20.4" font-weight="bold" stroke="#000" stroke-width="0.41" textLength="91.40" lengthAdjust="spacingAndGlyphs" transform="translate(1737.00 747.00) rotate(-90)" x="0" y="0">forecast</text>
<text id="cblabel_w3" font-size="20.4" font-weight="bold" stroke="#000" stroke-width="0.41" textLength="7.59" lengthAdjust="spacingAndGlyphs" transform="translate(1737.00 649.67) rotate(-90)" x="0" y="0">-</text>
<text id="cblabel_w4" font-size="20.4" font-weight="bold" stroke="#000" stroke-width="0.41" textLength="87.18" lengthAdjust="spacingAndGlyphs" transform="translate(1737.00 634.00) rotate(-90)" x="0" y="0">Number</text>
<text id="cblabel_w5" font-size="20.4" font-weight="bold" stroke="#000" stroke-width="0.41" textLength="22.23" lengthAdjust="spacingAndGlyphs" transform="translate(1737.00 541.00) rotate(-90)" x="0" y="0">of</text>
<text id="cblabel_w6" font-size="20.4" font-weight="bold" stroke="#000" stroke-width="0.41" textLength="39.77" lengthAdjust="spacingAndGlyphs" transform="translate(1737.00 511.00) rotate(-90)" x="0" y="0">EPS</text>
<text id="cblabel_w7" font-size="20.4" font-weight="bold" stroke="#000" stroke-width="0.41" textLength="67.03" lengthAdjust="spacingAndGlyphs" transform="translate(1737.00 463.00) rotate(-90)" x="0" y="0">within</text>
<text id="cblabel_w8" font-size="20.4" font-weight="bold" stroke="#000" stroke-width="0.41" textLength="72.88" lengthAdjust="spacingAndGlyphs" transform="translate(1737.00 388.00) rotate(-90)" x="0" y="0">120km</text>
<text id="leg0_w0" font-size="17.4" textLength="22.23" lengthAdjust="spacingAndGlyphs" x="1328.00" y="893.00">No</text>
<text id="leg0_w1" font-size="17.4" textLength="101.22" lengthAdjust="spacingAndGlyphs" x="1355.00" y="893.00">Interception</text>
<text id="leg1_w0" font-size="17.4" textLength="101.22" lengthAdjust="spacingAndGlyphs" x="1327.00" y="916.00">Interception</text>
<text id="leg1_w1" font-size="17.4" textLength="37.87" lengthAdjust="spacingAndGlyphs" x="1434.00" y="916.00">from</text>
<text id="leg1_w2" font-size="17.4" textLength="59.18" lengthAdjust="spacingAndGlyphs" x="1478.00" y="916.00">Named</text>
<text id="leg1_w3" font-size="17.4" textLength="64.14" lengthAdjust="spacingAndGlyphs" x="1542.00" y="916.00">cyclone</text>
<text id="leg2_w0" font-size="17.4" textLength="101.22" lengthAdjust="spacingAndGlyphs" x="1327.00" y="939.40">Interception</text>
<text id="leg2_w1" font-size="17.4" textLength="37.87" lengthAdjust="spacingAndGlyphs" x="1434.00" y="939.40">from</text>
<text id="leg2_w2" font-size="17.4" textLength="70.06" lengthAdjust="spacingAndGlyphs" x="1477.00" y="939.40">Trochoid</text>
<text id="leg3_w0" font-size="17.4" textLength="101.22" lengthAdjust="spacingAndGlyphs" x="1327.00" y="962.60">Interception</text>
<text id="leg3_w1" font-size="17.4" textLength="37.87" lengthAdjust="spacingAndGlyphs" x="1434.00" y="962.60">from</text>
<text id="leg3_w2" font-size="17.4" textLength="37.03" lengthAdjust="spacingAndGlyphs" x="1478.00" y="962.60">both</text>
<text id="leg4" font-size="17.4" textLength="43.19" lengthAdjust="spacingAndGlyphs" x="1329.00" y="985.40">HRES</text>
<text id="leg5_w0" font-size="17.4" textLength="68.81" lengthAdjust="spacingAndGlyphs" x="1328.00" y="1009.20">Analysis</text>
<text id="leg5_w1" font-size="17.4" textLength="4.92" lengthAdjust="spacingAndGlyphs" x="1402.81" y="1009.20">|</text>
<text id="leg5_w2" font-size="17.4" textLength="31.09" lengthAdjust="spacingAndGlyphs" x="1413.00" y="1009.20">45h</text>
<text id="leg5_w3" font-size="17.4" textLength="70.07" lengthAdjust="spacingAndGlyphs" x="1449.00" y="1009.20">duration</text>
<text id="leg6_w0" font-size="17.4" textLength="21.08" lengthAdjust="spacingAndGlyphs" x="1328.00" y="1033.50">TC</text>
<text id="leg6_w1" font-size="17.4" textLength="34.00" lengthAdjust="spacingAndGlyphs" x="1354.00" y="1033.50">obs.</text>
<text id="leg6_w2" font-size="17.4" textLength="23.34" lengthAdjust="spacingAndGlyphs" x="1394.00" y="1033.50">for</text>
<text id="leg6_w3" font-size="17.4" textLength="66.90" lengthAdjust="spacingAndGlyphs" x="1422.00" y="1033.50">analysis</text>
<text id="leg6_w4" font-size="17.4" textLength="70.07" lengthAdjust="spacingAndGlyphs" x="1494.00" y="1033.50">duration</text>
<text id="btitle_w0" font-size="17.3" font-weight="bold" stroke="#000" stroke-width="0.35" textLength="107.37" lengthAdjust="spacingAndGlyphs" x="550.00" y="1121.20">Percentage</text>
<text id="btitle_w1" font-size="17.3" font-weight="bold" stroke="#000" stroke-width="0.35" textLength="18.23" lengthAdjust="spacingAndGlyphs" x="663.00" y="1121.20">of</text>
<text id="btitle_w2" font-size="17.3" font-weight="bold" stroke="#000" stroke-width="0.35" textLength="53.26" lengthAdjust="spacingAndGlyphs" x="687.00" y="1121.20">flying</text>
<text id="btitle_w3" font-size="17.3" font-weight="bold" stroke="#000" stroke-width="0.35" textLength="67.68" lengthAdjust="spacingAndGlyphs" x="746.00" y="1121.20">ballons</text>
<text id="btitle_w4" font-size="17.3" font-weight="bold" stroke="#000" stroke-width="0.35" textLength="57.05" lengthAdjust="spacingAndGlyphs" x="820.00" y="1121.20">within</text>
<text id="btitle_w5" font-size="17.3" font-weight="bold" stroke="#000" stroke-width="0.35" textLength="10.91" lengthAdjust="spacingAndGlyphs" x="882.87" y="1121.20">a</text>
<text id="btitle_w6" font-size="17.3" font-weight="bold" stroke="#000" stroke-width="0.35" textLength="23.05" lengthAdjust="spacingAndGlyphs" x="900.00" y="1121.20">TC</text>
<text id="btitle_w7" font-size="17.3" font-weight="bold" stroke="#000" stroke-width="0.35" textLength="20.25" lengthAdjust="spacingAndGlyphs" x="930.00" y="1121.20">as</text>
<text id="btitle_w8" font-size="17.3" font-weight="bold" stroke="#000" stroke-width="0.35" textLength="10.91" lengthAdjust="spacingAndGlyphs" x="955.87" y="1121.20">a</text>
<text id="btitle_w9" font-size="17.3" font-weight="bold" stroke="#000" stroke-width="0.35" textLength="77.38" lengthAdjust="spacingAndGlyphs" x="973.00" y="1121.20">function</text>
<text id="btitle_w10" font-size="17.3" font-weight="bold" stroke="#000" stroke-width="0.35" textLength="17.27" lengthAdjust="spacingAndGlyphs" x="1057.00" y="1121.20">of</text>
<text id="btitle_w11" font-size="17.3" font-weight="bold" stroke="#000" stroke-width="0.35" textLength="50.36" lengthAdjust="spacingAndGlyphs" x="1081.00" y="1121.20">flight</text>
<text id="btitle_w12" font-size="17.3" font-weight="bold" stroke="#000" stroke-width="0.35" textLength="41.64" lengthAdjust="spacingAndGlyphs" x="1137.00" y="1121.20">time</text>
<text id="bt0" font-size="17.3" font-weight="bold" stroke="#000" stroke-width="0.35" textLength="22.30" lengthAdjust="spacingAndGlyphs" x="14.50" y="1200.00">0h</text>
<text id="bt1" font-size="17.3" font-weight="bold" stroke="#000" stroke-width="0.35" textLength="31.84" lengthAdjust="spacingAndGlyphs" x="174.50" y="1200.00">12h</text>
<text id="bt2" font-size="17.3" font-weight="bold" stroke="#000" stroke-width="0.35" textLength="32.86" lengthAdjust="spacingAndGlyphs" x="336.50" y="1200.00">24h</text>
<text id="bt3" font-size="17.3" font-weight="bold" stroke="#000" stroke-width="0.35" textLength="32.86" lengthAdjust="spacingAndGlyphs" x="500.50" y="1200.00">36h</text>
<text id="bt4" font-size="17.3" font-weight="bold" stroke="#000" stroke-width="0.35" textLength="32.89" lengthAdjust="spacingAndGlyphs" x="665.50" y="1200.00">48h</text>
<text id="bt5" font-size="17.3" font-weight="bold" stroke="#000" stroke-width="0.35" textLength="33.92" lengthAdjust="spacingAndGlyphs" x="828.50" y="1200.00">60h</text>
<text id="bt6" font-size="17.3" font-weight="bold" stroke="#000" stroke-width="0.35" textLength="32.86" lengthAdjust="spacingAndGlyphs" x="992.50" y="1200.00">72h</text>
<text id="bt7" font-size="17.3" font-weight="bold" stroke="#000" stroke-width="0.35" textLength="33.92" lengthAdjust="spacingAndGlyphs" x="1156.50" y="1200.00">84h</text>
<text id="bt8" font-size="17.3" font-weight="bold" stroke="#000" stroke-width="0.35" textLength="32.86" lengthAdjust="spacingAndGlyphs" x="1321.50" y="1200.00">96h</text>
<text id="bt9" font-size="17.3" font-weight="bold" stroke="#000" stroke-width="0.35" textLength="43.54" lengthAdjust="spacingAndGlyphs" x="1480.50" y="1200.00">108h</text>
<text id="bt10" font-size="17.3" font-weight="bold" stroke="#000" stroke-width="0.35" textLength="43.54" lengthAdjust="spacingAndGlyphs" x="1644.50" y="1200.00">120h</text></g>
</svg></body></html>
